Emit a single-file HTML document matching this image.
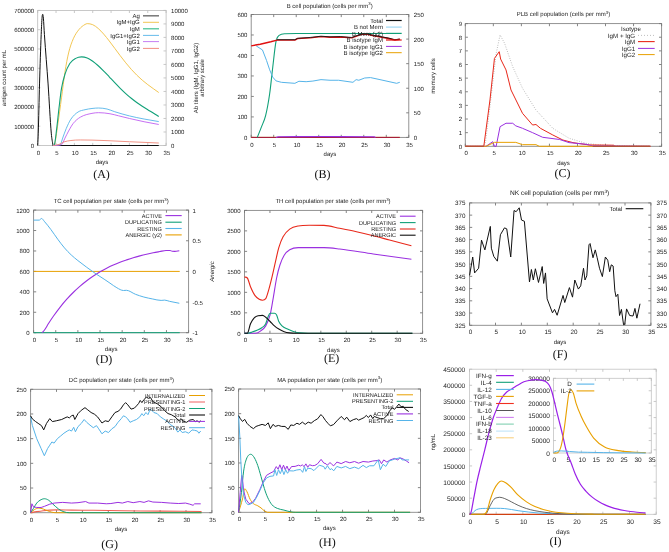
<!DOCTYPE html>
<html><head><meta charset="utf-8"><style>
html,body{margin:0;padding:0;background:#fff;}
svg{display:block;will-change:transform;}
text{text-rendering:geometricPrecision;}
</style></head><body>
<svg width="669" height="552" viewBox="0 0 669 552">
<rect width="669" height="552" fill="#fff"/>
<rect x="37.7" y="10.4" width="128.4" height="135.1" fill="none" stroke="#bbb" stroke-width="0.8"/>
<line x1="37.7" y1="145.5" x2="37.7" y2="142.9" stroke="#bbb" stroke-width="0.8"/>
<line x1="37.7" y1="10.4" x2="37.7" y2="13" stroke="#bbb" stroke-width="0.8"/>
<text x="38.5" y="154.6" font-size="6" text-anchor="middle" fill="#222" font-family="Liberation Sans">0</text>
<line x1="56.04" y1="145.5" x2="56.04" y2="142.9" stroke="#bbb" stroke-width="0.8"/>
<line x1="56.04" y1="10.4" x2="56.04" y2="13" stroke="#bbb" stroke-width="0.8"/>
<text x="56.84" y="154.6" font-size="6" text-anchor="middle" fill="#222" font-family="Liberation Sans">5</text>
<line x1="74.39" y1="145.5" x2="74.39" y2="142.9" stroke="#bbb" stroke-width="0.8"/>
<line x1="74.39" y1="10.4" x2="74.39" y2="13" stroke="#bbb" stroke-width="0.8"/>
<text x="75.19" y="154.6" font-size="6" text-anchor="middle" fill="#222" font-family="Liberation Sans">10</text>
<line x1="92.73" y1="145.5" x2="92.73" y2="142.9" stroke="#bbb" stroke-width="0.8"/>
<line x1="92.73" y1="10.4" x2="92.73" y2="13" stroke="#bbb" stroke-width="0.8"/>
<text x="93.53" y="154.6" font-size="6" text-anchor="middle" fill="#222" font-family="Liberation Sans">15</text>
<line x1="111.07" y1="145.5" x2="111.07" y2="142.9" stroke="#bbb" stroke-width="0.8"/>
<line x1="111.07" y1="10.4" x2="111.07" y2="13" stroke="#bbb" stroke-width="0.8"/>
<text x="111.87" y="154.6" font-size="6" text-anchor="middle" fill="#222" font-family="Liberation Sans">20</text>
<line x1="129.41" y1="145.5" x2="129.41" y2="142.9" stroke="#bbb" stroke-width="0.8"/>
<line x1="129.41" y1="10.4" x2="129.41" y2="13" stroke="#bbb" stroke-width="0.8"/>
<text x="130.21" y="154.6" font-size="6" text-anchor="middle" fill="#222" font-family="Liberation Sans">25</text>
<line x1="147.76" y1="145.5" x2="147.76" y2="142.9" stroke="#bbb" stroke-width="0.8"/>
<line x1="147.76" y1="10.4" x2="147.76" y2="13" stroke="#bbb" stroke-width="0.8"/>
<text x="148.56" y="154.6" font-size="6" text-anchor="middle" fill="#222" font-family="Liberation Sans">30</text>
<line x1="166.1" y1="145.5" x2="166.1" y2="142.9" stroke="#bbb" stroke-width="0.8"/>
<line x1="166.1" y1="10.4" x2="166.1" y2="13" stroke="#bbb" stroke-width="0.8"/>
<text x="166.9" y="154.6" font-size="6" text-anchor="middle" fill="#222" font-family="Liberation Sans">35</text>
<line x1="37.7" y1="145.5" x2="40.3" y2="145.5" stroke="#bbb" stroke-width="0.8"/>
<text x="34.2" y="147.96" font-size="6" text-anchor="end" fill="#222" font-family="Liberation Sans">0</text>
<line x1="37.7" y1="126.2" x2="40.3" y2="126.2" stroke="#bbb" stroke-width="0.8"/>
<text x="34.2" y="128.66" font-size="6" text-anchor="end" fill="#222" font-family="Liberation Sans">100000</text>
<line x1="37.7" y1="106.9" x2="40.3" y2="106.9" stroke="#bbb" stroke-width="0.8"/>
<text x="34.2" y="109.36" font-size="6" text-anchor="end" fill="#222" font-family="Liberation Sans">200000</text>
<line x1="37.7" y1="87.6" x2="40.3" y2="87.6" stroke="#bbb" stroke-width="0.8"/>
<text x="34.2" y="90.06" font-size="6" text-anchor="end" fill="#222" font-family="Liberation Sans">300000</text>
<line x1="37.7" y1="68.3" x2="40.3" y2="68.3" stroke="#bbb" stroke-width="0.8"/>
<text x="34.2" y="70.76" font-size="6" text-anchor="end" fill="#222" font-family="Liberation Sans">400000</text>
<line x1="37.7" y1="49" x2="40.3" y2="49" stroke="#bbb" stroke-width="0.8"/>
<text x="34.2" y="51.46" font-size="6" text-anchor="end" fill="#222" font-family="Liberation Sans">500000</text>
<line x1="37.7" y1="29.7" x2="40.3" y2="29.7" stroke="#bbb" stroke-width="0.8"/>
<text x="34.2" y="32.16" font-size="6" text-anchor="end" fill="#222" font-family="Liberation Sans">600000</text>
<line x1="37.7" y1="10.4" x2="40.3" y2="10.4" stroke="#bbb" stroke-width="0.8"/>
<text x="34.2" y="12.86" font-size="6" text-anchor="end" fill="#222" font-family="Liberation Sans">700000</text>
<line x1="166.1" y1="145.5" x2="163.5" y2="145.5" stroke="#bbb" stroke-width="0.8"/>
<text x="171.1" y="147.96" font-size="6" text-anchor="start" fill="#222" font-family="Liberation Sans">0</text>
<line x1="166.1" y1="131.99" x2="163.5" y2="131.99" stroke="#bbb" stroke-width="0.8"/>
<text x="171.1" y="134.45" font-size="6" text-anchor="start" fill="#222" font-family="Liberation Sans">1000</text>
<line x1="166.1" y1="118.48" x2="163.5" y2="118.48" stroke="#bbb" stroke-width="0.8"/>
<text x="171.1" y="120.94" font-size="6" text-anchor="start" fill="#222" font-family="Liberation Sans">2000</text>
<line x1="166.1" y1="104.97" x2="163.5" y2="104.97" stroke="#bbb" stroke-width="0.8"/>
<text x="171.1" y="107.43" font-size="6" text-anchor="start" fill="#222" font-family="Liberation Sans">3000</text>
<line x1="166.1" y1="91.46" x2="163.5" y2="91.46" stroke="#bbb" stroke-width="0.8"/>
<text x="171.1" y="93.92" font-size="6" text-anchor="start" fill="#222" font-family="Liberation Sans">4000</text>
<line x1="166.1" y1="77.95" x2="163.5" y2="77.95" stroke="#bbb" stroke-width="0.8"/>
<text x="171.1" y="80.41" font-size="6" text-anchor="start" fill="#222" font-family="Liberation Sans">5000</text>
<line x1="166.1" y1="64.44" x2="163.5" y2="64.44" stroke="#bbb" stroke-width="0.8"/>
<text x="171.1" y="66.9" font-size="6" text-anchor="start" fill="#222" font-family="Liberation Sans">6000</text>
<line x1="166.1" y1="50.93" x2="163.5" y2="50.93" stroke="#bbb" stroke-width="0.8"/>
<text x="171.1" y="53.39" font-size="6" text-anchor="start" fill="#222" font-family="Liberation Sans">7000</text>
<line x1="166.1" y1="37.42" x2="163.5" y2="37.42" stroke="#bbb" stroke-width="0.8"/>
<text x="171.1" y="39.88" font-size="6" text-anchor="start" fill="#222" font-family="Liberation Sans">8000</text>
<line x1="166.1" y1="23.91" x2="163.5" y2="23.91" stroke="#bbb" stroke-width="0.8"/>
<text x="171.1" y="26.37" font-size="6" text-anchor="start" fill="#222" font-family="Liberation Sans">9000</text>
<line x1="166.1" y1="10.4" x2="163.5" y2="10.4" stroke="#bbb" stroke-width="0.8"/>
<text x="171.1" y="12.86" font-size="6" text-anchor="start" fill="#222" font-family="Liberation Sans">10000</text>
<text x="6.1" y="78" font-size="6" text-anchor="middle" fill="#222" font-family="Liberation Sans" transform="rotate(-90 6.1 78)">antigen count per mL</text>
<text x="198.1" y="78" font-size="6" text-anchor="middle" fill="#222" font-family="Liberation Sans" transform="rotate(-90 198.1 78)">Ab titers (IgM, IgG1, IgG2)</text>
<text x="204.1" y="78" font-size="6" text-anchor="middle" fill="#222" font-family="Liberation Sans" transform="rotate(-90 204.1 78)">arbitrary scale</text>
<text x="102" y="163.7" font-size="6" text-anchor="middle" fill="#222" font-family="Liberation Sans">days</text>
<text x="101.5" y="178" font-size="12" text-anchor="middle" fill="#111" font-family="Liberation Serif">(A)</text>
<path d="M37.7,145.5 C37.88,141.38 38.07,138.72 38.25,133.15 C38.68,120.14 39.11,98.54 39.53,83.93 C40.08,65.15 40.63,47.97 41.19,34.53 C41.49,27.06 41.8,20.8 42.1,17.16 C42.3,14.82 42.49,14.26 42.69,14.26 C42.92,14.26 43.15,15.62 43.39,18.12 C43.73,21.8 44.07,29.49 44.41,34.53 C45.64,52.52 46.86,66.27 48.08,83.93 C49.15,99.3 50.21,121.13 51.27,133.15 C51.85,139.64 52.42,141.38 53,145.5" fill="none" stroke="#111" stroke-width="1.0" stroke-linejoin="round" stroke-linecap="butt"/>
<path d="M52.74,145.5 L158.76,145.5" fill="none" stroke="#111" stroke-width="1.1" stroke-linejoin="round" stroke-linecap="butt"/>
<path d="M53.11,145.5 C53.54,145.35 53.96,145.49 54.39,144.69 C55.55,142.53 56.72,131.52 57.88,123.88 C59.09,115.92 60.3,106.66 61.51,97.81 C62.67,89.32 63.83,79.25 64.99,71.87 C66.19,64.26 67.39,57.92 68.59,52.96 C70.15,46.47 71.72,42.4 73.29,38.77 C75.24,34.24 77.2,31.7 79.15,29.31 C81.11,26.93 83.07,25.63 85.02,24.45 C85.76,24.01 86.49,23.63 87.23,23.63 C89.06,23.63 90.89,23.89 92.73,24.69 C94.56,25.5 96.4,26.9 98.23,28.48 C100.07,30.05 101.9,32.06 103.73,34.14 C105.57,36.22 107.4,38.6 109.24,40.96 C111.07,43.32 112.91,45.85 114.74,48.31 C116.57,50.77 118.41,53.31 120.24,55.73 C122.08,58.14 123.91,60.54 125.75,62.81 C127.58,65.07 129.41,67.27 131.25,69.32 C133.08,71.37 134.92,73.3 136.75,75.11 C138.59,76.92 140.42,78.6 142.25,80.18 C144.09,81.76 145.92,83.21 147.76,84.61 C149.59,86.02 151.43,87.29 153.26,88.61 C155.09,89.93 156.93,91.22 158.76,92.53" fill="none" stroke="#f0c040" stroke-width="0.9" stroke-linejoin="round" stroke-linecap="butt"/>
<path d="M53.11,145.5 C53.54,145.37 53.96,145.49 54.39,144.69 C55.16,143.25 55.93,134.74 56.7,128.61 C57.5,122.29 58.29,113.93 59.09,107.27 C59.89,100.5 60.7,93.15 61.51,88.35 C62.67,81.45 63.83,77.82 64.99,74.17 C66.6,69.13 68.2,65.97 69.8,63.49 C71.77,60.45 73.74,59.46 75.71,58.36 C77.68,57.26 79.64,56.87 81.61,56.87 C83.48,56.87 85.35,57.29 87.23,58.02 C89.06,58.74 90.89,59.91 92.73,61.2 C94.56,62.48 96.4,64.08 98.23,65.72 C100.07,67.37 101.9,69.22 103.73,71.07 C105.57,72.93 107.4,74.91 109.24,76.84 C111.07,78.78 112.91,80.77 114.74,82.68 C116.57,84.59 118.41,86.49 120.24,88.3 C122.08,90.11 123.91,91.88 125.75,93.54 C127.58,95.2 129.41,96.78 131.25,98.27 C133.08,99.76 134.92,101.17 136.75,102.5 C138.59,103.83 140.42,105.06 142.25,106.25 C144.09,107.45 145.92,108.55 147.76,109.67 C149.59,110.79 151.43,111.85 153.26,112.98 C155.09,114.11 156.93,115.31 158.76,116.47" fill="none" stroke="#10a078" stroke-width="1.1" stroke-linejoin="round" stroke-linecap="butt"/>
<path d="M53.11,145.5 C55.5,145.44 57.9,145.5 60.3,144.69 C61.09,144.42 61.89,140.24 62.68,138.07 C63.86,134.86 65.03,131.37 66.2,128.61 C67.77,124.93 69.34,121.52 70.9,119.16 C73.29,115.56 75.67,113.58 78.05,112 C80.38,110.45 82.7,110.28 85.02,109.7 C87.35,109.11 89.67,108.77 91.99,108.48 C94.2,108.21 96.4,108.01 98.6,108.01 C101.41,108.01 104.22,108.36 107.04,109.02 C109.6,109.63 112.17,110.91 114.74,111.72 C119.63,113.28 124.52,114.7 129.41,115.91 C134.31,117.13 139.2,118.07 144.09,119.02 C148.98,119.97 153.87,120.73 158.76,121.59" fill="none" stroke="#56b4e9" stroke-width="0.9" stroke-linejoin="round" stroke-linecap="butt"/>
<path d="M53.11,145.5 C55.91,145.42 58.71,145.5 61.51,144.69 C62.67,144.35 63.83,140.31 64.99,138.07 C66.19,135.76 67.39,133.2 68.59,131.04 C70.15,128.23 71.72,125.31 73.29,123.34 C75.66,120.36 78.03,118.55 80.4,117.13 C84.27,114.81 88.13,114.17 91.99,113.35 C94.2,112.87 96.4,112.67 98.6,112.67 C102.39,112.67 106.18,113.12 109.97,113.75 C112.78,114.22 115.6,115.09 118.41,115.78 C122.08,116.67 125.75,117.62 129.41,118.48 C134.31,119.62 139.2,120.72 144.09,121.72 C148.98,122.72 153.87,123.57 158.76,124.49" fill="none" stroke="#c060f0" stroke-width="0.9" stroke-linejoin="round" stroke-linecap="butt"/>
<path d="M53.11,145.5 C55.1,145.14 57.09,145.12 59.09,144.42 C60.64,143.87 62.19,142.55 63.75,141.99 C66.13,141.12 68.52,140.82 70.9,140.5 C74.07,140.08 77.23,139.96 80.4,139.96 C84.27,139.96 88.13,140 91.99,140.1 C97.01,140.22 102.02,140.43 107.04,140.64 C114.5,140.95 121.95,141.37 129.41,141.72 C139.2,142.17 148.98,142.57 158.76,143" fill="none" stroke="#f08878" stroke-width="0.9" stroke-linejoin="round" stroke-linecap="butt"/>
<text x="139.8" y="17.96" font-size="6" text-anchor="end" fill="#222" font-family="Liberation Sans">Ag</text>
<line x1="143" y1="15.8" x2="159" y2="15.8" stroke="#777" stroke-width="1.5"/>
<text x="139.8" y="24.46" font-size="6" text-anchor="end" fill="#222" font-family="Liberation Sans">IgM+IgG</text>
<line x1="143" y1="22.3" x2="159" y2="22.3" stroke="#f0c040" stroke-width="0.9"/>
<text x="139.8" y="30.96" font-size="6" text-anchor="end" fill="#222" font-family="Liberation Sans">IgM</text>
<line x1="143" y1="28.8" x2="159" y2="28.8" stroke="#40c090" stroke-width="1.2"/>
<text x="139.8" y="37.56" font-size="6" text-anchor="end" fill="#222" font-family="Liberation Sans">IgG1+IgG2</text>
<line x1="143" y1="35.4" x2="159" y2="35.4" stroke="#56b4e9" stroke-width="0.9"/>
<text x="139.8" y="43.76" font-size="6" text-anchor="end" fill="#222" font-family="Liberation Sans">IgG1</text>
<line x1="143" y1="41.6" x2="159" y2="41.6" stroke="#c070f0" stroke-width="0.9"/>
<text x="139.8" y="50.56" font-size="6" text-anchor="end" fill="#222" font-family="Liberation Sans">IgG2</text>
<line x1="143" y1="48.4" x2="159" y2="48.4" stroke="#f08070" stroke-width="0.9"/>
<rect x="251.2" y="14.5" width="157.6" height="122.9" fill="none" stroke="#888" stroke-width="0.9"/>
<line x1="251.2" y1="137.4" x2="251.2" y2="134.8" stroke="#777" stroke-width="0.9"/>
<line x1="251.2" y1="14.5" x2="251.2" y2="17.1" stroke="#777" stroke-width="0.9"/>
<text x="252" y="146.8" font-size="6" text-anchor="middle" fill="#222" font-family="Liberation Sans">0</text>
<line x1="273.71" y1="137.4" x2="273.71" y2="134.8" stroke="#777" stroke-width="0.9"/>
<line x1="273.71" y1="14.5" x2="273.71" y2="17.1" stroke="#777" stroke-width="0.9"/>
<text x="274.51" y="146.8" font-size="6" text-anchor="middle" fill="#222" font-family="Liberation Sans">5</text>
<line x1="296.23" y1="137.4" x2="296.23" y2="134.8" stroke="#777" stroke-width="0.9"/>
<line x1="296.23" y1="14.5" x2="296.23" y2="17.1" stroke="#777" stroke-width="0.9"/>
<text x="297.03" y="146.8" font-size="6" text-anchor="middle" fill="#222" font-family="Liberation Sans">10</text>
<line x1="318.74" y1="137.4" x2="318.74" y2="134.8" stroke="#777" stroke-width="0.9"/>
<line x1="318.74" y1="14.5" x2="318.74" y2="17.1" stroke="#777" stroke-width="0.9"/>
<text x="319.54" y="146.8" font-size="6" text-anchor="middle" fill="#222" font-family="Liberation Sans">15</text>
<line x1="341.26" y1="137.4" x2="341.26" y2="134.8" stroke="#777" stroke-width="0.9"/>
<line x1="341.26" y1="14.5" x2="341.26" y2="17.1" stroke="#777" stroke-width="0.9"/>
<text x="342.06" y="146.8" font-size="6" text-anchor="middle" fill="#222" font-family="Liberation Sans">20</text>
<line x1="363.77" y1="137.4" x2="363.77" y2="134.8" stroke="#777" stroke-width="0.9"/>
<line x1="363.77" y1="14.5" x2="363.77" y2="17.1" stroke="#777" stroke-width="0.9"/>
<text x="364.57" y="146.8" font-size="6" text-anchor="middle" fill="#222" font-family="Liberation Sans">25</text>
<line x1="386.29" y1="137.4" x2="386.29" y2="134.8" stroke="#777" stroke-width="0.9"/>
<line x1="386.29" y1="14.5" x2="386.29" y2="17.1" stroke="#777" stroke-width="0.9"/>
<text x="387.09" y="146.8" font-size="6" text-anchor="middle" fill="#222" font-family="Liberation Sans">30</text>
<line x1="408.8" y1="137.4" x2="408.8" y2="134.8" stroke="#777" stroke-width="0.9"/>
<line x1="408.8" y1="14.5" x2="408.8" y2="17.1" stroke="#777" stroke-width="0.9"/>
<text x="409.6" y="146.8" font-size="6" text-anchor="middle" fill="#222" font-family="Liberation Sans">35</text>
<line x1="251.2" y1="137.4" x2="253.8" y2="137.4" stroke="#777" stroke-width="0.9"/>
<text x="247.4" y="139.86" font-size="6" text-anchor="end" fill="#222" font-family="Liberation Sans">0</text>
<line x1="251.2" y1="116.92" x2="253.8" y2="116.92" stroke="#777" stroke-width="0.9"/>
<text x="247.4" y="119.38" font-size="6" text-anchor="end" fill="#222" font-family="Liberation Sans">100</text>
<line x1="251.2" y1="96.43" x2="253.8" y2="96.43" stroke="#777" stroke-width="0.9"/>
<text x="247.4" y="98.89" font-size="6" text-anchor="end" fill="#222" font-family="Liberation Sans">200</text>
<line x1="251.2" y1="75.95" x2="253.8" y2="75.95" stroke="#777" stroke-width="0.9"/>
<text x="247.4" y="78.41" font-size="6" text-anchor="end" fill="#222" font-family="Liberation Sans">300</text>
<line x1="251.2" y1="55.47" x2="253.8" y2="55.47" stroke="#777" stroke-width="0.9"/>
<text x="247.4" y="57.93" font-size="6" text-anchor="end" fill="#222" font-family="Liberation Sans">400</text>
<line x1="251.2" y1="34.98" x2="253.8" y2="34.98" stroke="#777" stroke-width="0.9"/>
<text x="247.4" y="37.44" font-size="6" text-anchor="end" fill="#222" font-family="Liberation Sans">500</text>
<line x1="251.2" y1="14.5" x2="253.8" y2="14.5" stroke="#777" stroke-width="0.9"/>
<text x="247.4" y="16.96" font-size="6" text-anchor="end" fill="#222" font-family="Liberation Sans">600</text>
<line x1="408.8" y1="137.4" x2="406.2" y2="137.4" stroke="#777" stroke-width="0.9"/>
<text x="413.8" y="139.86" font-size="6" text-anchor="start" fill="#222" font-family="Liberation Sans">0</text>
<line x1="408.8" y1="112.82" x2="406.2" y2="112.82" stroke="#777" stroke-width="0.9"/>
<text x="413.8" y="115.28" font-size="6" text-anchor="start" fill="#222" font-family="Liberation Sans">50</text>
<line x1="408.8" y1="88.24" x2="406.2" y2="88.24" stroke="#777" stroke-width="0.9"/>
<text x="413.8" y="90.7" font-size="6" text-anchor="start" fill="#222" font-family="Liberation Sans">100</text>
<line x1="408.8" y1="63.66" x2="406.2" y2="63.66" stroke="#777" stroke-width="0.9"/>
<text x="413.8" y="66.12" font-size="6" text-anchor="start" fill="#222" font-family="Liberation Sans">150</text>
<line x1="408.8" y1="39.08" x2="406.2" y2="39.08" stroke="#777" stroke-width="0.9"/>
<text x="413.8" y="41.54" font-size="6" text-anchor="start" fill="#222" font-family="Liberation Sans">200</text>
<line x1="408.8" y1="14.5" x2="406.2" y2="14.5" stroke="#777" stroke-width="0.9"/>
<text x="413.8" y="16.96" font-size="6" text-anchor="start" fill="#222" font-family="Liberation Sans">250</text>
<text x="329.7" y="7.5" font-size="6" text-anchor="middle" fill="#222" font-family="Liberation Sans">B cell population (cells per mm<tspan font-size="4.32" dy="-2.2">3</tspan><tspan dy="2.2">)</tspan></text>
<text x="329.9" y="155.7" font-size="6" text-anchor="middle" fill="#222" font-family="Liberation Sans">days</text>
<text x="435" y="76" font-size="6" text-anchor="middle" fill="#222" font-family="Liberation Sans" transform="rotate(-90 435 76)">memory cells</text>
<text x="322.4" y="178.2" font-size="12" text-anchor="middle" fill="#111" font-family="Liberation Serif">(B)</text>
<path d="M251.2,137.4 L399.79,137.4" fill="none" stroke="#e8a000" stroke-width="1.0" stroke-linejoin="round" stroke-linecap="butt"/>
<path d="M251.2,137.4 L399.79,137.4" fill="none" stroke="#a01040" stroke-width="1.0" stroke-linejoin="round" stroke-linecap="butt"/>
<path d="M275.97,137.4 L278.22,136.68 L296.23,136.58 L318.74,136.48 L341.26,136.58 L374.13,136.68 L375.48,137.4" fill="none" stroke="#9a30e0" stroke-width="1.1" stroke-linejoin="round" stroke-linecap="butt"/>
<path d="M257.28,137.4 C258.7,133.79 260.13,130.32 261.56,126.58 C262.91,123.05 264.26,121.1 265.61,115.62 C266.96,110.15 268.31,103.19 269.66,93.75 C270.71,86.4 271.76,75.38 272.81,66.71 C273.86,58.03 274.92,46.9 275.97,41.69 C277.02,36.47 278.07,36.2 279.12,35.39 C281.22,33.78 283.32,33.91 285.42,33.77 C289.02,33.52 292.63,33.52 296.23,33.52 C330.75,33.52 365.27,33.52 399.79,33.52" fill="none" stroke="#10a078" stroke-width="1.1" stroke-linejoin="round" stroke-linecap="butt"/>
<path d="M256.15,45.84 L262.46,49.94 L266.51,60.38 L269.66,69.8 L272.81,77.18 L275.97,80.87 L281.37,82.3 L294.88,83.32 L298.93,81.28 L306.13,81.69 L312.89,81.07 L320.99,79.64 L330,80.25 L338.56,80.25 L352.96,82.3 L356.12,79.64 L358.82,80.25 L364.67,78 L370.53,77.59 L379.98,79.64 L396.64,83.32 L399.79,82.3" fill="none" stroke="#56b4e9" stroke-width="1.0" stroke-linejoin="round" stroke-linecap="butt"/>
<path d="M251.2,45.84 L260.21,44.2 L270.79,41.74 L277.09,40.1 L294.88,40.1 L297.58,38.67 L310.19,37.85 L320.99,36.62 L330,37.24 L340.36,37.03 L351.61,37.85 L355.22,36.62 L361.52,34.37 L367.37,34.37 L373.68,35.8 L388.54,38.47 L394.84,40.1 L399.79,39.28" fill="none" stroke="#e01010" stroke-width="1.4" stroke-linejoin="round" stroke-linecap="butt"/>
<path d="M277.09,39.69 L294.88,39.69 L297.58,38.26 L310.19,37.44 L320.99,36.21 L330,36.83 L340.36,36.62 L351.61,37.44 L355.22,36.21 L361.52,33.96 L367.37,33.96 L373.68,35.39 L388.54,38.06 L394.84,39.69 L399.79,39.08" fill="none" stroke="#111" stroke-width="0.9" stroke-linejoin="round" stroke-linecap="butt"/>
<text x="382.9" y="22.66" font-size="6" text-anchor="end" fill="#222" font-family="Liberation Sans">Total</text>
<line x1="386" y1="20.5" x2="401.7" y2="20.5" stroke="#111" stroke-width="1.2"/>
<text x="382.9" y="29.26" font-size="6" text-anchor="end" fill="#222" font-family="Liberation Sans">B not Mem</text>
<line x1="386" y1="27.1" x2="401.7" y2="27.1" stroke="#a0d8f4" stroke-width="1.2"/>
<text x="382.9" y="35.56" font-size="6" text-anchor="end" fill="#222" font-family="Liberation Sans">B Mem (y2)</text>
<line x1="386" y1="33.4" x2="401.7" y2="33.4" stroke="#10a078" stroke-width="1.2"/>
<text x="382.9" y="42.16" font-size="6" text-anchor="end" fill="#222" font-family="Liberation Sans">B isotype IgM</text>
<line x1="386" y1="40" x2="401.7" y2="40" stroke="#e01010" stroke-width="1.2"/>
<text x="382.9" y="48.56" font-size="6" text-anchor="end" fill="#222" font-family="Liberation Sans">B isotype IgG1</text>
<line x1="386" y1="46.4" x2="401.7" y2="46.4" stroke="#9a30e0" stroke-width="1.0"/>
<text x="382.9" y="54.86" font-size="6" text-anchor="end" fill="#222" font-family="Liberation Sans">B isotype IgG2</text>
<line x1="386" y1="52.7" x2="401.7" y2="52.7" stroke="#e8a000" stroke-width="1.0"/>
<rect x="465.3" y="23.6" width="196.3" height="122.7" fill="none" stroke="#888" stroke-width="0.9"/>
<line x1="465.3" y1="146.3" x2="465.3" y2="143.7" stroke="#777" stroke-width="0.9"/>
<line x1="465.3" y1="23.6" x2="465.3" y2="26.2" stroke="#777" stroke-width="0.9"/>
<text x="466.1" y="154.6" font-size="6" text-anchor="middle" fill="#222" font-family="Liberation Sans">0</text>
<line x1="493.34" y1="146.3" x2="493.34" y2="143.7" stroke="#777" stroke-width="0.9"/>
<line x1="493.34" y1="23.6" x2="493.34" y2="26.2" stroke="#777" stroke-width="0.9"/>
<text x="494.14" y="154.6" font-size="6" text-anchor="middle" fill="#222" font-family="Liberation Sans">5</text>
<line x1="521.39" y1="146.3" x2="521.39" y2="143.7" stroke="#777" stroke-width="0.9"/>
<line x1="521.39" y1="23.6" x2="521.39" y2="26.2" stroke="#777" stroke-width="0.9"/>
<text x="522.19" y="154.6" font-size="6" text-anchor="middle" fill="#222" font-family="Liberation Sans">10</text>
<line x1="549.43" y1="146.3" x2="549.43" y2="143.7" stroke="#777" stroke-width="0.9"/>
<line x1="549.43" y1="23.6" x2="549.43" y2="26.2" stroke="#777" stroke-width="0.9"/>
<text x="550.23" y="154.6" font-size="6" text-anchor="middle" fill="#222" font-family="Liberation Sans">15</text>
<line x1="577.47" y1="146.3" x2="577.47" y2="143.7" stroke="#777" stroke-width="0.9"/>
<line x1="577.47" y1="23.6" x2="577.47" y2="26.2" stroke="#777" stroke-width="0.9"/>
<text x="578.27" y="154.6" font-size="6" text-anchor="middle" fill="#222" font-family="Liberation Sans">20</text>
<line x1="605.51" y1="146.3" x2="605.51" y2="143.7" stroke="#777" stroke-width="0.9"/>
<line x1="605.51" y1="23.6" x2="605.51" y2="26.2" stroke="#777" stroke-width="0.9"/>
<text x="606.31" y="154.6" font-size="6" text-anchor="middle" fill="#222" font-family="Liberation Sans">25</text>
<line x1="633.56" y1="146.3" x2="633.56" y2="143.7" stroke="#777" stroke-width="0.9"/>
<line x1="633.56" y1="23.6" x2="633.56" y2="26.2" stroke="#777" stroke-width="0.9"/>
<text x="634.36" y="154.6" font-size="6" text-anchor="middle" fill="#222" font-family="Liberation Sans">30</text>
<line x1="661.6" y1="146.3" x2="661.6" y2="143.7" stroke="#777" stroke-width="0.9"/>
<line x1="661.6" y1="23.6" x2="661.6" y2="26.2" stroke="#777" stroke-width="0.9"/>
<text x="662.4" y="154.6" font-size="6" text-anchor="middle" fill="#222" font-family="Liberation Sans">35</text>
<line x1="465.3" y1="146.3" x2="467.9" y2="146.3" stroke="#777" stroke-width="0.9"/>
<line x1="661.6" y1="146.3" x2="659" y2="146.3" stroke="#777" stroke-width="0.9"/>
<text x="462.2" y="148.76" font-size="6" text-anchor="end" fill="#222" font-family="Liberation Sans">0</text>
<line x1="465.3" y1="132.67" x2="467.9" y2="132.67" stroke="#777" stroke-width="0.9"/>
<line x1="661.6" y1="132.67" x2="659" y2="132.67" stroke="#777" stroke-width="0.9"/>
<text x="462.2" y="135.13" font-size="6" text-anchor="end" fill="#222" font-family="Liberation Sans">1</text>
<line x1="465.3" y1="119.03" x2="467.9" y2="119.03" stroke="#777" stroke-width="0.9"/>
<line x1="661.6" y1="119.03" x2="659" y2="119.03" stroke="#777" stroke-width="0.9"/>
<text x="462.2" y="121.49" font-size="6" text-anchor="end" fill="#222" font-family="Liberation Sans">2</text>
<line x1="465.3" y1="105.4" x2="467.9" y2="105.4" stroke="#777" stroke-width="0.9"/>
<line x1="661.6" y1="105.4" x2="659" y2="105.4" stroke="#777" stroke-width="0.9"/>
<text x="462.2" y="107.86" font-size="6" text-anchor="end" fill="#222" font-family="Liberation Sans">3</text>
<line x1="465.3" y1="91.77" x2="467.9" y2="91.77" stroke="#777" stroke-width="0.9"/>
<line x1="661.6" y1="91.77" x2="659" y2="91.77" stroke="#777" stroke-width="0.9"/>
<text x="462.2" y="94.23" font-size="6" text-anchor="end" fill="#222" font-family="Liberation Sans">4</text>
<line x1="465.3" y1="78.13" x2="467.9" y2="78.13" stroke="#777" stroke-width="0.9"/>
<line x1="661.6" y1="78.13" x2="659" y2="78.13" stroke="#777" stroke-width="0.9"/>
<text x="462.2" y="80.59" font-size="6" text-anchor="end" fill="#222" font-family="Liberation Sans">5</text>
<line x1="465.3" y1="64.5" x2="467.9" y2="64.5" stroke="#777" stroke-width="0.9"/>
<line x1="661.6" y1="64.5" x2="659" y2="64.5" stroke="#777" stroke-width="0.9"/>
<text x="462.2" y="66.96" font-size="6" text-anchor="end" fill="#222" font-family="Liberation Sans">6</text>
<line x1="465.3" y1="50.87" x2="467.9" y2="50.87" stroke="#777" stroke-width="0.9"/>
<line x1="661.6" y1="50.87" x2="659" y2="50.87" stroke="#777" stroke-width="0.9"/>
<text x="462.2" y="53.33" font-size="6" text-anchor="end" fill="#222" font-family="Liberation Sans">7</text>
<line x1="465.3" y1="37.23" x2="467.9" y2="37.23" stroke="#777" stroke-width="0.9"/>
<line x1="661.6" y1="37.23" x2="659" y2="37.23" stroke="#777" stroke-width="0.9"/>
<text x="462.2" y="39.69" font-size="6" text-anchor="end" fill="#222" font-family="Liberation Sans">8</text>
<line x1="465.3" y1="23.6" x2="467.9" y2="23.6" stroke="#777" stroke-width="0.9"/>
<line x1="661.6" y1="23.6" x2="659" y2="23.6" stroke="#777" stroke-width="0.9"/>
<text x="462.2" y="26.06" font-size="6" text-anchor="end" fill="#222" font-family="Liberation Sans">9</text>
<text x="563.4" y="15.9" font-size="6" text-anchor="middle" fill="#222" font-family="Liberation Sans">PLB cell population (cells per mm<tspan font-size="4.32" dy="-2.2">3</tspan><tspan dy="2.2">)</tspan></text>
<text x="563.5" y="164.9" font-size="6" text-anchor="middle" fill="#222" font-family="Liberation Sans">days</text>
<text x="562.6" y="176.5" font-size="12" text-anchor="middle" fill="#111" font-family="Liberation Serif">(C)</text>
<path d="M465.3,146.3 L483.25,146.3 L485.49,142.21 L489.42,110.85 L492.78,82.22 L496.15,53.59 L500.07,34.92 L504.56,43.23 L512.69,66.68 L522.51,88.22 L535.97,110.04 L552.79,128.3 L569.06,138.26 L585.88,143.3 L599.91,144.94 L613.93,145.62 L633.56,146.16 L650.38,146.3" fill="none" stroke="#999" stroke-width="0.8" stroke-linejoin="round" stroke-linecap="butt" stroke-dasharray="0.8,1.6"/>
<path d="M465.3,146.3 L483.81,146.3 L489.98,99.95 L494.46,58.36 L499.23,51.68 L500.63,59.05 L506.02,69.95 L511.01,89.99 L522.51,113.31 L532.6,125.03 L535.97,124.49 L540.45,128.3 L552.79,134.98 L562.89,140.03 L572.98,142.62 L579.15,143.57 L589.25,144.94 L613.93,145.21 L614.49,146.3 L650.38,146.3" fill="none" stroke="#e8281a" stroke-width="1.0" stroke-linejoin="round" stroke-linecap="butt"/>
<path d="M465.3,146.3 L486.05,146.3 L492.78,141.66 L494.46,146.3 L496.15,146.3 L500.07,126.67 L506.02,123.26 L512.69,123.26 L515.78,125.85 L522.51,128.3 L532.6,132.67 L542.7,137.3 L559.52,139.48 L569.06,142.62 L585.88,144.26 L592.61,145.89 L650.38,146.3" fill="none" stroke="#9a30e0" stroke-width="1.0" stroke-linejoin="round" stroke-linecap="butt"/>
<path d="M465.3,146.3 L486.05,146.3 L494.46,142.35 L515.78,142.35 L522.51,144.66 L535.97,144.66 L539.33,146.3 L650.38,146.3" fill="none" stroke="#e8a000" stroke-width="1.0" stroke-linejoin="round" stroke-linecap="butt"/>
<path d="M465.3,146.3 L483.81,146.3" fill="none" stroke="#b04838" stroke-width="1.1" stroke-linejoin="round" stroke-linecap="butt"/>
<path d="M592.61,146.3 L650.38,146.3" fill="none" stroke="#a04040" stroke-width="1.1" stroke-linejoin="round" stroke-linecap="butt"/>
<text x="631" y="31.4" font-size="6.2" text-anchor="middle" fill="#222" font-family="Liberation Sans">Isotype</text>
<text x="635.2" y="37.63" font-size="6.2" text-anchor="end" fill="#222" font-family="Liberation Sans">IgM + IgG</text>
<line x1="638" y1="35.4" x2="654.7" y2="35.4" stroke="#999" stroke-width="0.8" stroke-dasharray="0.8,2.2"/>
<text x="635.2" y="43.83" font-size="6.2" text-anchor="end" fill="#222" font-family="Liberation Sans">IgM</text>
<line x1="638" y1="41.6" x2="654.7" y2="41.6" stroke="#e8281a" stroke-width="1.1"/>
<text x="635.2" y="50.63" font-size="6.2" text-anchor="end" fill="#222" font-family="Liberation Sans">IgG1</text>
<line x1="638" y1="48.4" x2="654.7" y2="48.4" stroke="#9a30e0" stroke-width="1.0"/>
<text x="635.2" y="56.83" font-size="6.2" text-anchor="end" fill="#222" font-family="Liberation Sans">IgG2</text>
<line x1="638" y1="54.6" x2="654.7" y2="54.6" stroke="#e8a000" stroke-width="1.0"/>
<rect x="33.6" y="210.1" width="155" height="122.6" fill="none" stroke="#888" stroke-width="0.9"/>
<line x1="33.6" y1="332.7" x2="33.6" y2="330.1" stroke="#777" stroke-width="0.9"/>
<line x1="33.6" y1="210.1" x2="33.6" y2="212.7" stroke="#777" stroke-width="0.9"/>
<text x="34.4" y="341.7" font-size="6" text-anchor="middle" fill="#222" font-family="Liberation Sans">0</text>
<line x1="55.74" y1="332.7" x2="55.74" y2="330.1" stroke="#777" stroke-width="0.9"/>
<line x1="55.74" y1="210.1" x2="55.74" y2="212.7" stroke="#777" stroke-width="0.9"/>
<text x="56.54" y="341.7" font-size="6" text-anchor="middle" fill="#222" font-family="Liberation Sans">5</text>
<line x1="77.89" y1="332.7" x2="77.89" y2="330.1" stroke="#777" stroke-width="0.9"/>
<line x1="77.89" y1="210.1" x2="77.89" y2="212.7" stroke="#777" stroke-width="0.9"/>
<text x="78.69" y="341.7" font-size="6" text-anchor="middle" fill="#222" font-family="Liberation Sans">10</text>
<line x1="100.03" y1="332.7" x2="100.03" y2="330.1" stroke="#777" stroke-width="0.9"/>
<line x1="100.03" y1="210.1" x2="100.03" y2="212.7" stroke="#777" stroke-width="0.9"/>
<text x="100.83" y="341.7" font-size="6" text-anchor="middle" fill="#222" font-family="Liberation Sans">15</text>
<line x1="122.17" y1="332.7" x2="122.17" y2="330.1" stroke="#777" stroke-width="0.9"/>
<line x1="122.17" y1="210.1" x2="122.17" y2="212.7" stroke="#777" stroke-width="0.9"/>
<text x="122.97" y="341.7" font-size="6" text-anchor="middle" fill="#222" font-family="Liberation Sans">20</text>
<line x1="144.31" y1="332.7" x2="144.31" y2="330.1" stroke="#777" stroke-width="0.9"/>
<line x1="144.31" y1="210.1" x2="144.31" y2="212.7" stroke="#777" stroke-width="0.9"/>
<text x="145.11" y="341.7" font-size="6" text-anchor="middle" fill="#222" font-family="Liberation Sans">25</text>
<line x1="166.46" y1="332.7" x2="166.46" y2="330.1" stroke="#777" stroke-width="0.9"/>
<line x1="166.46" y1="210.1" x2="166.46" y2="212.7" stroke="#777" stroke-width="0.9"/>
<text x="167.26" y="341.7" font-size="6" text-anchor="middle" fill="#222" font-family="Liberation Sans">30</text>
<line x1="188.6" y1="332.7" x2="188.6" y2="330.1" stroke="#777" stroke-width="0.9"/>
<line x1="188.6" y1="210.1" x2="188.6" y2="212.7" stroke="#777" stroke-width="0.9"/>
<text x="189.4" y="341.7" font-size="6" text-anchor="middle" fill="#222" font-family="Liberation Sans">35</text>
<line x1="33.6" y1="332.7" x2="36.2" y2="332.7" stroke="#777" stroke-width="0.9"/>
<text x="29.6" y="335.16" font-size="6" text-anchor="end" fill="#222" font-family="Liberation Sans">0</text>
<line x1="33.6" y1="312.27" x2="36.2" y2="312.27" stroke="#777" stroke-width="0.9"/>
<text x="29.6" y="314.73" font-size="6" text-anchor="end" fill="#222" font-family="Liberation Sans">200</text>
<line x1="33.6" y1="291.83" x2="36.2" y2="291.83" stroke="#777" stroke-width="0.9"/>
<text x="29.6" y="294.29" font-size="6" text-anchor="end" fill="#222" font-family="Liberation Sans">400</text>
<line x1="33.6" y1="271.4" x2="36.2" y2="271.4" stroke="#777" stroke-width="0.9"/>
<text x="29.6" y="273.86" font-size="6" text-anchor="end" fill="#222" font-family="Liberation Sans">600</text>
<line x1="33.6" y1="250.97" x2="36.2" y2="250.97" stroke="#777" stroke-width="0.9"/>
<text x="29.6" y="253.43" font-size="6" text-anchor="end" fill="#222" font-family="Liberation Sans">800</text>
<line x1="33.6" y1="230.53" x2="36.2" y2="230.53" stroke="#777" stroke-width="0.9"/>
<text x="29.6" y="232.99" font-size="6" text-anchor="end" fill="#222" font-family="Liberation Sans">1000</text>
<line x1="33.6" y1="210.1" x2="36.2" y2="210.1" stroke="#777" stroke-width="0.9"/>
<text x="29.6" y="212.56" font-size="6" text-anchor="end" fill="#222" font-family="Liberation Sans">1200</text>
<line x1="188.6" y1="332.7" x2="186" y2="332.7" stroke="#777" stroke-width="0.9"/>
<text x="192.6" y="335.16" font-size="6" text-anchor="start" fill="#222" font-family="Liberation Sans">-1</text>
<line x1="188.6" y1="302.05" x2="186" y2="302.05" stroke="#777" stroke-width="0.9"/>
<text x="192.6" y="304.51" font-size="6" text-anchor="start" fill="#222" font-family="Liberation Sans">-0.5</text>
<line x1="188.6" y1="271.4" x2="186" y2="271.4" stroke="#777" stroke-width="0.9"/>
<text x="192.6" y="273.86" font-size="6" text-anchor="start" fill="#222" font-family="Liberation Sans">0</text>
<line x1="188.6" y1="240.75" x2="186" y2="240.75" stroke="#777" stroke-width="0.9"/>
<text x="192.6" y="243.21" font-size="6" text-anchor="start" fill="#222" font-family="Liberation Sans">0.5</text>
<line x1="188.6" y1="210.1" x2="186" y2="210.1" stroke="#777" stroke-width="0.9"/>
<text x="192.6" y="212.56" font-size="6" text-anchor="start" fill="#222" font-family="Liberation Sans">1</text>
<text x="111.2" y="202.7" font-size="6" text-anchor="middle" fill="#222" font-family="Liberation Sans">TC cell population per state (cells per mm<tspan font-size="4.32" dy="-2.2">3</tspan><tspan dy="2.2">)</tspan></text>
<text x="111.2" y="350.6" font-size="6" text-anchor="middle" fill="#222" font-family="Liberation Sans">days</text>
<text x="214.4" y="271.5" font-size="6" text-anchor="middle" fill="#222" font-family="Liberation Sans" transform="rotate(-90 214.4 271.5)" font-style="italic">Anergic</text>
<text x="104" y="363" font-size="12" text-anchor="middle" fill="#111" font-family="Liberation Serif">(D)</text>
<path d="M33.6,332.7 L179.74,332.7" fill="none" stroke="#10a078" stroke-width="1.0" stroke-linejoin="round" stroke-linecap="butt"/>
<path d="M33.6,271.4 L179.74,271.4" fill="none" stroke="#e8a000" stroke-width="1.0" stroke-linejoin="round" stroke-linecap="butt"/>
<path d="M42.01,332.7 C42.9,331.71 43.79,330.95 44.67,329.74 C46,327.92 47.33,325.36 48.66,323.3 C50.28,320.78 51.9,318.35 53.53,316.05 C55.74,312.9 57.96,309.87 60.17,307.06 C62.39,304.25 64.6,301.66 66.81,299.19 C69.03,296.72 71.24,294.42 73.46,292.24 C75.67,290.06 77.89,288.04 80.1,286.11 C82.31,284.19 84.53,282.38 86.74,280.7 C88.96,279.01 91.17,277.48 93.39,276 C95.6,274.52 97.81,273.1 100.03,271.81 C102.24,270.51 104.46,269.36 106.67,268.23 C108.89,267.11 111.1,266.07 113.31,265.07 C115.53,264.06 117.74,263.07 119.96,262.2 C122.17,261.34 124.39,260.6 126.6,259.86 C128.81,259.11 131.03,258.37 133.24,257.71 C135.46,257.05 137.67,256.45 139.89,255.87 C142.1,255.29 144.31,254.75 146.53,254.24 C148.74,253.73 150.96,253.25 153.17,252.81 C155.39,252.36 157.6,251.98 159.81,251.58 C161.88,251.2 163.95,250.46 166.01,250.46 C167.34,250.46 168.67,250.46 170,250.46 C170.74,250.46 171.48,251.19 172.21,251.27 C173.1,251.38 173.99,251.38 174.87,251.38 C176.35,251.38 177.82,250.97 179.3,250.76" fill="none" stroke="#9a30e0" stroke-width="1.1" stroke-linejoin="round" stroke-linecap="butt"/>
<path d="M33.6,220.11 C35.47,220.11 37.35,220.11 39.22,220.11 C40.01,220.11 40.79,218.48 41.57,218.48 C42.46,218.48 43.34,220.22 44.23,221.24 C46.44,223.76 48.66,226.57 50.87,229.51 C53.16,232.55 55.45,236.12 57.74,239.22 C59.98,242.25 62.22,245.29 64.47,247.9 C66.73,250.53 68.98,252.82 71.24,254.95 C73.46,257.04 75.67,258.79 77.89,260.57 C80.84,262.94 83.79,265.14 86.74,267.31 C89.84,269.6 92.94,271.85 96.04,273.95 C99,275.96 101.95,277.72 104.9,279.68 C106.6,280.8 108.3,282 109.99,283.15 C112.28,284.7 114.57,286.51 116.86,287.75 C119.07,288.95 121.29,290.51 123.5,290.51 C124.46,290.51 125.42,290.3 126.38,290.3 C129.4,290.3 132.43,293.13 135.46,294.29 C138.26,295.36 141.07,296.28 143.87,297.04 C146.82,297.85 149.78,298.41 152.73,298.99 C155.53,299.53 158.34,300.42 161.14,300.42 C162.32,300.42 163.5,300.11 164.69,300.11 C166.31,300.11 167.93,300.97 169.56,301.33 C172.8,302.07 176.05,302.63 179.3,303.28" fill="none" stroke="#56b4e9" stroke-width="1.0" stroke-linejoin="round" stroke-linecap="butt"/>
<text x="161.9" y="217.6" font-size="5.55" text-anchor="end" fill="#222" font-family="Liberation Sans">ACTIVE</text>
<line x1="165.4" y1="215.6" x2="181.7" y2="215.6" stroke="#9a30e0" stroke-width="1.1"/>
<text x="161.9" y="224.2" font-size="5.55" text-anchor="end" fill="#222" font-family="Liberation Sans">DUPLICATING</text>
<line x1="165.4" y1="222.2" x2="181.7" y2="222.2" stroke="#10a078" stroke-width="1.1"/>
<text x="161.9" y="230.5" font-size="5.55" text-anchor="end" fill="#222" font-family="Liberation Sans">RESTING</text>
<line x1="165.4" y1="228.5" x2="181.7" y2="228.5" stroke="#56b4e9" stroke-width="1.1"/>
<text x="161.9" y="236.9" font-size="5.55" text-anchor="end" fill="#222" font-family="Liberation Sans">ANERGIC (y2)</text>
<line x1="165.4" y1="234.9" x2="181.7" y2="234.9" stroke="#e8a000" stroke-width="1.1"/>
<rect x="244.5" y="210.4" width="178.1" height="122.9" fill="none" stroke="#888" stroke-width="0.9"/>
<line x1="244.5" y1="333.3" x2="244.5" y2="330.7" stroke="#777" stroke-width="0.9"/>
<line x1="244.5" y1="210.4" x2="244.5" y2="213" stroke="#777" stroke-width="0.9"/>
<text x="245.3" y="341.8" font-size="6" text-anchor="middle" fill="#222" font-family="Liberation Sans">0</text>
<line x1="269.94" y1="333.3" x2="269.94" y2="330.7" stroke="#777" stroke-width="0.9"/>
<line x1="269.94" y1="210.4" x2="269.94" y2="213" stroke="#777" stroke-width="0.9"/>
<text x="270.74" y="341.8" font-size="6" text-anchor="middle" fill="#222" font-family="Liberation Sans">5</text>
<line x1="295.39" y1="333.3" x2="295.39" y2="330.7" stroke="#777" stroke-width="0.9"/>
<line x1="295.39" y1="210.4" x2="295.39" y2="213" stroke="#777" stroke-width="0.9"/>
<text x="296.19" y="341.8" font-size="6" text-anchor="middle" fill="#222" font-family="Liberation Sans">10</text>
<line x1="320.83" y1="333.3" x2="320.83" y2="330.7" stroke="#777" stroke-width="0.9"/>
<line x1="320.83" y1="210.4" x2="320.83" y2="213" stroke="#777" stroke-width="0.9"/>
<text x="321.63" y="341.8" font-size="6" text-anchor="middle" fill="#222" font-family="Liberation Sans">15</text>
<line x1="346.27" y1="333.3" x2="346.27" y2="330.7" stroke="#777" stroke-width="0.9"/>
<line x1="346.27" y1="210.4" x2="346.27" y2="213" stroke="#777" stroke-width="0.9"/>
<text x="347.07" y="341.8" font-size="6" text-anchor="middle" fill="#222" font-family="Liberation Sans">20</text>
<line x1="371.71" y1="333.3" x2="371.71" y2="330.7" stroke="#777" stroke-width="0.9"/>
<line x1="371.71" y1="210.4" x2="371.71" y2="213" stroke="#777" stroke-width="0.9"/>
<text x="372.51" y="341.8" font-size="6" text-anchor="middle" fill="#222" font-family="Liberation Sans">25</text>
<line x1="397.16" y1="333.3" x2="397.16" y2="330.7" stroke="#777" stroke-width="0.9"/>
<line x1="397.16" y1="210.4" x2="397.16" y2="213" stroke="#777" stroke-width="0.9"/>
<text x="397.96" y="341.8" font-size="6" text-anchor="middle" fill="#222" font-family="Liberation Sans">30</text>
<line x1="422.6" y1="333.3" x2="422.6" y2="330.7" stroke="#777" stroke-width="0.9"/>
<line x1="422.6" y1="210.4" x2="422.6" y2="213" stroke="#777" stroke-width="0.9"/>
<text x="423.4" y="341.8" font-size="6" text-anchor="middle" fill="#222" font-family="Liberation Sans">35</text>
<line x1="244.5" y1="333.3" x2="247.1" y2="333.3" stroke="#777" stroke-width="0.9"/>
<line x1="422.6" y1="333.3" x2="420" y2="333.3" stroke="#777" stroke-width="0.9"/>
<text x="240.5" y="335.76" font-size="6" text-anchor="end" fill="#222" font-family="Liberation Sans">0</text>
<line x1="244.5" y1="312.82" x2="247.1" y2="312.82" stroke="#777" stroke-width="0.9"/>
<line x1="422.6" y1="312.82" x2="420" y2="312.82" stroke="#777" stroke-width="0.9"/>
<text x="240.5" y="315.28" font-size="6" text-anchor="end" fill="#222" font-family="Liberation Sans">500</text>
<line x1="244.5" y1="292.33" x2="247.1" y2="292.33" stroke="#777" stroke-width="0.9"/>
<line x1="422.6" y1="292.33" x2="420" y2="292.33" stroke="#777" stroke-width="0.9"/>
<text x="240.5" y="294.79" font-size="6" text-anchor="end" fill="#222" font-family="Liberation Sans">1000</text>
<line x1="244.5" y1="271.85" x2="247.1" y2="271.85" stroke="#777" stroke-width="0.9"/>
<line x1="422.6" y1="271.85" x2="420" y2="271.85" stroke="#777" stroke-width="0.9"/>
<text x="240.5" y="274.31" font-size="6" text-anchor="end" fill="#222" font-family="Liberation Sans">1500</text>
<line x1="244.5" y1="251.37" x2="247.1" y2="251.37" stroke="#777" stroke-width="0.9"/>
<line x1="422.6" y1="251.37" x2="420" y2="251.37" stroke="#777" stroke-width="0.9"/>
<text x="240.5" y="253.83" font-size="6" text-anchor="end" fill="#222" font-family="Liberation Sans">2000</text>
<line x1="244.5" y1="230.88" x2="247.1" y2="230.88" stroke="#777" stroke-width="0.9"/>
<line x1="422.6" y1="230.88" x2="420" y2="230.88" stroke="#777" stroke-width="0.9"/>
<text x="240.5" y="233.34" font-size="6" text-anchor="end" fill="#222" font-family="Liberation Sans">2500</text>
<line x1="244.5" y1="210.4" x2="247.1" y2="210.4" stroke="#777" stroke-width="0.9"/>
<line x1="422.6" y1="210.4" x2="420" y2="210.4" stroke="#777" stroke-width="0.9"/>
<text x="240.5" y="212.86" font-size="6" text-anchor="end" fill="#222" font-family="Liberation Sans">3000</text>
<text x="333" y="203" font-size="6" text-anchor="middle" fill="#222" font-family="Liberation Sans">TH cell population per state (cells per mm<tspan font-size="4.32" dy="-2.2">3</tspan><tspan dy="2.2">)</tspan></text>
<text x="333.4" y="351.7" font-size="6" text-anchor="middle" fill="#222" font-family="Liberation Sans">days</text>
<text x="331.7" y="361.7" font-size="12" text-anchor="middle" fill="#111" font-family="Liberation Serif">(E)</text>
<path d="M244.5,277.01 C245.43,277.23 246.37,277.04 247.3,278 C248.37,279.09 249.44,284.21 250.5,286.72 C251.96,290.15 253.42,293.3 254.88,295.41 C256.32,297.49 257.76,298.45 259.21,299.3 C260.31,299.94 261.41,300.2 262.51,300.2 C263.58,300.2 264.65,300.2 265.72,298.68 C266.8,297.14 267.89,292.66 268.98,288.89 C270.08,285.07 271.18,280.51 272.28,275.91 C273.35,271.44 274.42,266.34 275.49,261.69 C276.59,256.9 277.69,251.35 278.8,247.6 C280.22,242.75 281.65,239.33 283.07,236.7 C285.28,232.63 287.48,230.79 289.69,229.12 C292.55,226.95 295.42,226.48 298.29,225.93 C301.92,225.23 305.55,225.23 309.18,225.23 C314.11,225.23 319.05,225.23 323.98,225.39 C329.21,225.57 334.43,227.29 339.66,228.3 C345.25,229.39 350.85,230.47 356.45,231.7 C362.05,232.94 367.64,234.31 373.24,235.72 C378.67,237.08 384.1,238.6 389.52,240.02 C396.82,241.93 404.11,243.82 411.41,245.71" fill="none" stroke="#e8281a" stroke-width="1.1" stroke-linejoin="round" stroke-linecap="butt"/>
<path d="M244.5,333.3 C248.23,333.3 251.96,333.3 255.69,333.3 C257.39,333.3 259.09,332.1 260.78,330.84 C262.43,329.62 264.07,328.76 265.72,325.89 C267.18,323.34 268.64,320.76 270.1,314.99 C271.16,310.76 272.23,303.68 273.3,297.62 C274.4,291.36 275.51,283.43 276.61,278 C277.71,272.56 278.81,268.44 279.92,265.01 C281.34,260.58 282.77,257.55 284.19,255.22 C286.02,252.22 287.85,250.95 289.69,249.81 C292.55,248.03 295.42,247.6 298.29,247.6 C306.85,247.6 315.42,247.6 323.98,247.6 C329.21,247.6 334.43,248.37 339.66,248.99 C350.85,250.32 362.05,252.37 373.24,253.99 C385.96,255.82 398.68,257.54 411.41,259.31" fill="none" stroke="#9a30e0" stroke-width="1.1" stroke-linejoin="round" stroke-linecap="butt"/>
<path d="M244.5,333.3 C245.38,333.3 246.26,333.3 247.15,333.3 C248.81,333.3 250.47,332.6 252.13,332.07 C253.76,331.56 255.39,330.9 257.02,330.19 C258.49,329.54 259.97,329.12 261.44,328.02 C262.87,326.95 264.29,326.55 265.72,323.71 C266.45,322.26 267.18,318.93 267.91,317.2 C268.64,315.47 269.37,313.31 270.1,313.31 C271.54,313.31 272.98,313.31 274.42,313.31 C275.15,313.31 275.88,313.62 276.61,314.99 C277.34,316.35 278.07,319.92 278.8,321.5 C279.87,323.82 280.93,324.84 282,325.89 C283.83,327.67 285.67,328.18 287.5,329.08 C289.67,330.15 291.84,331.07 294.01,331.7 C296.17,332.33 298.32,332.63 300.47,332.89 C303.02,333.19 305.56,333.3 308.11,333.3 C342.88,333.3 377.65,333.3 412.42,333.3" fill="none" stroke="#10a078" stroke-width="1.1" stroke-linejoin="round" stroke-linecap="butt"/>
<path d="M244.5,333.3 C245.43,333.3 246.37,333.3 247.3,333.3 C248.37,333.3 249.44,326.19 250.5,323.71 C251.61,321.16 252.71,319.55 253.81,318.31 C255.24,316.7 256.66,315.96 258.09,315.68 C259.56,315.4 261.04,315.4 262.51,315.4 C263.58,315.4 264.65,316.37 265.72,317.2 C267.18,318.33 268.64,320.05 270.1,321.5 C271.54,322.94 272.98,324.63 274.42,325.89 C275.88,327.16 277.34,328.19 278.8,329.08 C280.59,330.17 282.39,331.07 284.19,331.7 C286.02,332.35 287.85,332.63 289.69,332.89 C291.59,333.16 293.49,333.3 295.39,333.3 C334.4,333.3 373.41,333.3 412.42,333.3" fill="none" stroke="#111" stroke-width="1.1" stroke-linejoin="round" stroke-linecap="butt"/>
<text x="396" y="218.2" font-size="5.55" text-anchor="end" fill="#222" font-family="Liberation Sans">ACTIVE</text>
<line x1="399.9" y1="216.2" x2="415.6" y2="216.2" stroke="#9a30e0" stroke-width="1.1"/>
<text x="396" y="224.6" font-size="5.55" text-anchor="end" fill="#222" font-family="Liberation Sans">DUPLICATING</text>
<line x1="399.9" y1="222.6" x2="415.6" y2="222.6" stroke="#10a078" stroke-width="1.1"/>
<text x="396" y="231" font-size="5.55" text-anchor="end" fill="#222" font-family="Liberation Sans">RESTING</text>
<line x1="399.9" y1="229" x2="415.6" y2="229" stroke="#e8281a" stroke-width="1.1"/>
<text x="396" y="237.2" font-size="5.55" text-anchor="end" fill="#222" font-family="Liberation Sans">ANERGIC</text>
<line x1="399.9" y1="235.2" x2="415.6" y2="235.2" stroke="#111" stroke-width="1.1"/>
<rect x="469.6" y="202.9" width="181.3" height="122.4" fill="none" stroke="#888" stroke-width="0.9"/>
<line x1="469.6" y1="325.3" x2="469.6" y2="322.7" stroke="#777" stroke-width="0.9"/>
<line x1="469.6" y1="202.9" x2="469.6" y2="205.5" stroke="#777" stroke-width="0.9"/>
<text x="470.4" y="334.4" font-size="6.3" text-anchor="middle" fill="#222" font-family="Liberation Sans">0</text>
<line x1="495.5" y1="325.3" x2="495.5" y2="322.7" stroke="#777" stroke-width="0.9"/>
<line x1="495.5" y1="202.9" x2="495.5" y2="205.5" stroke="#777" stroke-width="0.9"/>
<text x="496.3" y="334.4" font-size="6.3" text-anchor="middle" fill="#222" font-family="Liberation Sans">5</text>
<line x1="521.4" y1="325.3" x2="521.4" y2="322.7" stroke="#777" stroke-width="0.9"/>
<line x1="521.4" y1="202.9" x2="521.4" y2="205.5" stroke="#777" stroke-width="0.9"/>
<text x="522.2" y="334.4" font-size="6.3" text-anchor="middle" fill="#222" font-family="Liberation Sans">10</text>
<line x1="547.3" y1="325.3" x2="547.3" y2="322.7" stroke="#777" stroke-width="0.9"/>
<line x1="547.3" y1="202.9" x2="547.3" y2="205.5" stroke="#777" stroke-width="0.9"/>
<text x="548.1" y="334.4" font-size="6.3" text-anchor="middle" fill="#222" font-family="Liberation Sans">15</text>
<line x1="573.2" y1="325.3" x2="573.2" y2="322.7" stroke="#777" stroke-width="0.9"/>
<line x1="573.2" y1="202.9" x2="573.2" y2="205.5" stroke="#777" stroke-width="0.9"/>
<text x="574" y="334.4" font-size="6.3" text-anchor="middle" fill="#222" font-family="Liberation Sans">20</text>
<line x1="599.1" y1="325.3" x2="599.1" y2="322.7" stroke="#777" stroke-width="0.9"/>
<line x1="599.1" y1="202.9" x2="599.1" y2="205.5" stroke="#777" stroke-width="0.9"/>
<text x="599.9" y="334.4" font-size="6.3" text-anchor="middle" fill="#222" font-family="Liberation Sans">25</text>
<line x1="625" y1="325.3" x2="625" y2="322.7" stroke="#777" stroke-width="0.9"/>
<line x1="625" y1="202.9" x2="625" y2="205.5" stroke="#777" stroke-width="0.9"/>
<text x="625.8" y="334.4" font-size="6.3" text-anchor="middle" fill="#222" font-family="Liberation Sans">30</text>
<line x1="650.9" y1="325.3" x2="650.9" y2="322.7" stroke="#777" stroke-width="0.9"/>
<line x1="650.9" y1="202.9" x2="650.9" y2="205.5" stroke="#777" stroke-width="0.9"/>
<text x="651.7" y="334.4" font-size="6.3" text-anchor="middle" fill="#222" font-family="Liberation Sans">35</text>
<line x1="469.6" y1="325.3" x2="472.2" y2="325.3" stroke="#777" stroke-width="0.9"/>
<text x="465.6" y="327.87" font-size="6.3" text-anchor="end" fill="#222" font-family="Liberation Sans">325</text>
<line x1="469.6" y1="313.06" x2="472.2" y2="313.06" stroke="#777" stroke-width="0.9"/>
<text x="465.6" y="315.63" font-size="6.3" text-anchor="end" fill="#222" font-family="Liberation Sans">330</text>
<line x1="469.6" y1="300.82" x2="472.2" y2="300.82" stroke="#777" stroke-width="0.9"/>
<text x="465.6" y="303.39" font-size="6.3" text-anchor="end" fill="#222" font-family="Liberation Sans">335</text>
<line x1="469.6" y1="288.58" x2="472.2" y2="288.58" stroke="#777" stroke-width="0.9"/>
<text x="465.6" y="291.15" font-size="6.3" text-anchor="end" fill="#222" font-family="Liberation Sans">340</text>
<line x1="469.6" y1="276.34" x2="472.2" y2="276.34" stroke="#777" stroke-width="0.9"/>
<text x="465.6" y="278.91" font-size="6.3" text-anchor="end" fill="#222" font-family="Liberation Sans">345</text>
<line x1="469.6" y1="264.1" x2="472.2" y2="264.1" stroke="#777" stroke-width="0.9"/>
<text x="465.6" y="266.67" font-size="6.3" text-anchor="end" fill="#222" font-family="Liberation Sans">350</text>
<line x1="469.6" y1="251.86" x2="472.2" y2="251.86" stroke="#777" stroke-width="0.9"/>
<text x="465.6" y="254.43" font-size="6.3" text-anchor="end" fill="#222" font-family="Liberation Sans">355</text>
<line x1="469.6" y1="239.62" x2="472.2" y2="239.62" stroke="#777" stroke-width="0.9"/>
<text x="465.6" y="242.19" font-size="6.3" text-anchor="end" fill="#222" font-family="Liberation Sans">360</text>
<line x1="469.6" y1="227.38" x2="472.2" y2="227.38" stroke="#777" stroke-width="0.9"/>
<text x="465.6" y="229.95" font-size="6.3" text-anchor="end" fill="#222" font-family="Liberation Sans">365</text>
<line x1="469.6" y1="215.14" x2="472.2" y2="215.14" stroke="#777" stroke-width="0.9"/>
<text x="465.6" y="217.71" font-size="6.3" text-anchor="end" fill="#222" font-family="Liberation Sans">370</text>
<line x1="469.6" y1="202.9" x2="472.2" y2="202.9" stroke="#777" stroke-width="0.9"/>
<text x="465.6" y="205.47" font-size="6.3" text-anchor="end" fill="#222" font-family="Liberation Sans">375</text>
<line x1="650.9" y1="325.3" x2="648.3" y2="325.3" stroke="#777" stroke-width="0.9"/>
<text x="656.5" y="327.87" font-size="6.3" text-anchor="start" fill="#222" font-family="Liberation Sans">325</text>
<line x1="650.9" y1="313.06" x2="648.3" y2="313.06" stroke="#777" stroke-width="0.9"/>
<text x="656.5" y="315.63" font-size="6.3" text-anchor="start" fill="#222" font-family="Liberation Sans">330</text>
<line x1="650.9" y1="300.82" x2="648.3" y2="300.82" stroke="#777" stroke-width="0.9"/>
<text x="656.5" y="303.39" font-size="6.3" text-anchor="start" fill="#222" font-family="Liberation Sans">335</text>
<line x1="650.9" y1="288.58" x2="648.3" y2="288.58" stroke="#777" stroke-width="0.9"/>
<text x="656.5" y="291.15" font-size="6.3" text-anchor="start" fill="#222" font-family="Liberation Sans">340</text>
<line x1="650.9" y1="276.34" x2="648.3" y2="276.34" stroke="#777" stroke-width="0.9"/>
<text x="656.5" y="278.91" font-size="6.3" text-anchor="start" fill="#222" font-family="Liberation Sans">345</text>
<line x1="650.9" y1="264.1" x2="648.3" y2="264.1" stroke="#777" stroke-width="0.9"/>
<text x="656.5" y="266.67" font-size="6.3" text-anchor="start" fill="#222" font-family="Liberation Sans">350</text>
<line x1="650.9" y1="251.86" x2="648.3" y2="251.86" stroke="#777" stroke-width="0.9"/>
<text x="656.5" y="254.43" font-size="6.3" text-anchor="start" fill="#222" font-family="Liberation Sans">355</text>
<line x1="650.9" y1="239.62" x2="648.3" y2="239.62" stroke="#777" stroke-width="0.9"/>
<text x="656.5" y="242.19" font-size="6.3" text-anchor="start" fill="#222" font-family="Liberation Sans">360</text>
<line x1="650.9" y1="227.38" x2="648.3" y2="227.38" stroke="#777" stroke-width="0.9"/>
<text x="656.5" y="229.95" font-size="6.3" text-anchor="start" fill="#222" font-family="Liberation Sans">365</text>
<line x1="650.9" y1="215.14" x2="648.3" y2="215.14" stroke="#777" stroke-width="0.9"/>
<text x="656.5" y="217.71" font-size="6.3" text-anchor="start" fill="#222" font-family="Liberation Sans">370</text>
<line x1="650.9" y1="202.9" x2="648.3" y2="202.9" stroke="#777" stroke-width="0.9"/>
<text x="656.5" y="205.47" font-size="6.3" text-anchor="start" fill="#222" font-family="Liberation Sans">375</text>
<text x="559.6" y="195.3" font-size="6.6" text-anchor="middle" fill="#222" font-family="Liberation Sans">NK cell population (cells per mm<tspan font-size="4.75" dy="-2.2">3</tspan><tspan dy="2.2">)</tspan></text>
<text x="560" y="343.9" font-size="6" text-anchor="middle" fill="#222" font-family="Liberation Sans">days</text>
<text x="560.2" y="358.3" font-size="12" text-anchor="middle" fill="#111" font-family="Liberation Serif">(F)</text>
<path d="M469.6,275.36 L472.71,257 L474.62,272.91 L478.61,268.26 L481.51,240.11 L484.88,249.9 L490.32,226.4 L491.36,248.19 L493.84,256.51 L497.36,261.16 L500.42,234.72 L504.46,227.87 L506.74,228.85 L510.73,257 L514.04,210.49 L516.12,211.71 L519.22,207.8 L521.5,220.04 L524.4,221.26 L529.48,281.97 L531.4,269.49 L533.31,280.01 L535.39,268.75 L538.49,282.46 L542.22,266.55 L543.67,283.44 L545.49,272.91 L547.14,298.86 L552.48,312.82 L554.55,309.39 L557.14,315.26 L563.05,295.43 L564.76,302.53 L569.42,287.6 L572.53,297.15 L574.81,280.01 L578.38,289.07 L580.71,285.89 L583.51,268.26 L585.01,280.01 L586.77,275.85 L589,244.76 L590.09,243.54 L592.99,257.74 L595.27,249.9 L597.18,257.74 L599.51,268.26 L602.36,276.58 L605.37,257 L607.75,260.18 L609.67,271.69 L611.27,264.83 L613.14,266.06 L614.85,290.78 L615.99,296.66 L617.85,294.21 L619.56,315.51 L621.43,309.39 L623.55,324.81 L624.74,324.32 L626.55,308.9 L629.66,315.51 L633.03,316 L634.95,308.41 L636.86,318.2 L640.02,303.76" fill="none" stroke="#111" stroke-width="1.0" stroke-linejoin="round" stroke-linecap="butt"/>
<text x="622.1" y="210.86" font-size="6" text-anchor="end" fill="#222" font-family="Liberation Sans">Total</text>
<line x1="625.7" y1="208.7" x2="643.3" y2="208.7" stroke="#111" stroke-width="1.1"/>
<rect x="30.6" y="389.3" width="181.3" height="123.4" fill="none" stroke="#888" stroke-width="0.9"/>
<line x1="30.6" y1="512.7" x2="30.6" y2="510.1" stroke="#777" stroke-width="0.9"/>
<line x1="30.6" y1="389.3" x2="30.6" y2="391.9" stroke="#777" stroke-width="0.9"/>
<text x="31.4" y="522" font-size="6" text-anchor="middle" fill="#222" font-family="Liberation Sans">0</text>
<line x1="56.5" y1="512.7" x2="56.5" y2="510.1" stroke="#777" stroke-width="0.9"/>
<line x1="56.5" y1="389.3" x2="56.5" y2="391.9" stroke="#777" stroke-width="0.9"/>
<text x="57.3" y="522" font-size="6" text-anchor="middle" fill="#222" font-family="Liberation Sans">5</text>
<line x1="82.4" y1="512.7" x2="82.4" y2="510.1" stroke="#777" stroke-width="0.9"/>
<line x1="82.4" y1="389.3" x2="82.4" y2="391.9" stroke="#777" stroke-width="0.9"/>
<text x="83.2" y="522" font-size="6" text-anchor="middle" fill="#222" font-family="Liberation Sans">10</text>
<line x1="108.3" y1="512.7" x2="108.3" y2="510.1" stroke="#777" stroke-width="0.9"/>
<line x1="108.3" y1="389.3" x2="108.3" y2="391.9" stroke="#777" stroke-width="0.9"/>
<text x="109.1" y="522" font-size="6" text-anchor="middle" fill="#222" font-family="Liberation Sans">15</text>
<line x1="134.2" y1="512.7" x2="134.2" y2="510.1" stroke="#777" stroke-width="0.9"/>
<line x1="134.2" y1="389.3" x2="134.2" y2="391.9" stroke="#777" stroke-width="0.9"/>
<text x="135" y="522" font-size="6" text-anchor="middle" fill="#222" font-family="Liberation Sans">20</text>
<line x1="160.1" y1="512.7" x2="160.1" y2="510.1" stroke="#777" stroke-width="0.9"/>
<line x1="160.1" y1="389.3" x2="160.1" y2="391.9" stroke="#777" stroke-width="0.9"/>
<text x="160.9" y="522" font-size="6" text-anchor="middle" fill="#222" font-family="Liberation Sans">25</text>
<line x1="186" y1="512.7" x2="186" y2="510.1" stroke="#777" stroke-width="0.9"/>
<line x1="186" y1="389.3" x2="186" y2="391.9" stroke="#777" stroke-width="0.9"/>
<text x="186.8" y="522" font-size="6" text-anchor="middle" fill="#222" font-family="Liberation Sans">30</text>
<line x1="211.9" y1="512.7" x2="211.9" y2="510.1" stroke="#777" stroke-width="0.9"/>
<line x1="211.9" y1="389.3" x2="211.9" y2="391.9" stroke="#777" stroke-width="0.9"/>
<text x="212.7" y="522" font-size="6" text-anchor="middle" fill="#222" font-family="Liberation Sans">35</text>
<line x1="30.6" y1="512.7" x2="33.2" y2="512.7" stroke="#777" stroke-width="0.9"/>
<line x1="211.9" y1="512.7" x2="209.3" y2="512.7" stroke="#777" stroke-width="0.9"/>
<text x="26.6" y="515.16" font-size="6" text-anchor="end" fill="#222" font-family="Liberation Sans">0</text>
<line x1="30.6" y1="488.02" x2="33.2" y2="488.02" stroke="#777" stroke-width="0.9"/>
<line x1="211.9" y1="488.02" x2="209.3" y2="488.02" stroke="#777" stroke-width="0.9"/>
<text x="26.6" y="490.48" font-size="6" text-anchor="end" fill="#222" font-family="Liberation Sans">50</text>
<line x1="30.6" y1="463.34" x2="33.2" y2="463.34" stroke="#777" stroke-width="0.9"/>
<line x1="211.9" y1="463.34" x2="209.3" y2="463.34" stroke="#777" stroke-width="0.9"/>
<text x="26.6" y="465.8" font-size="6" text-anchor="end" fill="#222" font-family="Liberation Sans">100</text>
<line x1="30.6" y1="438.66" x2="33.2" y2="438.66" stroke="#777" stroke-width="0.9"/>
<line x1="211.9" y1="438.66" x2="209.3" y2="438.66" stroke="#777" stroke-width="0.9"/>
<text x="26.6" y="441.12" font-size="6" text-anchor="end" fill="#222" font-family="Liberation Sans">150</text>
<line x1="30.6" y1="413.98" x2="33.2" y2="413.98" stroke="#777" stroke-width="0.9"/>
<line x1="211.9" y1="413.98" x2="209.3" y2="413.98" stroke="#777" stroke-width="0.9"/>
<text x="26.6" y="416.44" font-size="6" text-anchor="end" fill="#222" font-family="Liberation Sans">200</text>
<line x1="30.6" y1="389.3" x2="33.2" y2="389.3" stroke="#777" stroke-width="0.9"/>
<line x1="211.9" y1="389.3" x2="209.3" y2="389.3" stroke="#777" stroke-width="0.9"/>
<text x="26.6" y="391.76" font-size="6" text-anchor="end" fill="#222" font-family="Liberation Sans">250</text>
<text x="121.4" y="382.3" font-size="6" text-anchor="middle" fill="#222" font-family="Liberation Sans">DC population per state (cells per mm<tspan font-size="4.32" dy="-2.2">3</tspan><tspan dy="2.2">)</tspan></text>
<text x="121" y="530.7" font-size="6" text-anchor="middle" fill="#222" font-family="Liberation Sans">days</text>
<text x="109.6" y="547.5" font-size="12" text-anchor="middle" fill="#111" font-family="Liberation Serif">(G)</text>
<path d="M30.6,512.7 C32.64,512.35 34.67,511.98 36.71,511.66 C38.87,511.32 41.03,510.99 43.19,510.73 C45.38,510.46 47.57,510.22 49.77,510.08 C51.94,509.94 54.12,509.89 56.29,509.89 C61.37,509.89 66.45,510.03 71.52,510.08 C78.77,510.16 86.03,510.19 93.28,510.28 C102.95,510.4 112.62,510.6 122.29,510.73 C134.89,510.89 147.5,511 160.1,511.12 C173.91,511.25 187.73,511.35 201.54,511.47" fill="none" stroke="#f06050" stroke-width="1.1" stroke-linejoin="round" stroke-linecap="butt"/>
<path d="M30.6,512.7 C31.89,511.66 33.19,510.33 34.48,509.59 C35.95,508.75 37.42,508.06 38.89,508.06 C40.32,508.06 41.75,508.56 43.19,509 C44.66,509.45 46.12,510.18 47.59,510.73 C49.01,511.25 50.42,511.88 51.84,512.21 C53.39,512.56 54.95,512.7 56.5,512.7 C104.85,512.7 153.19,512.7 201.54,512.7" fill="none" stroke="#e8a000" stroke-width="1.0" stroke-linejoin="round" stroke-linecap="butt"/>
<path d="M30.6,512.7 C31.53,511.3 32.46,509.97 33.4,508.5 C34.5,506.77 35.61,504.45 36.71,503.07 C37.82,501.7 38.92,500.93 40.03,500.26 C41.46,499.4 42.89,498.73 44.33,498.73 C45.78,498.73 47.23,499.35 48.68,500.26 C50.11,501.16 51.54,502.89 52.98,504.16 C54.83,505.8 56.67,507.71 58.52,509 C60.32,510.25 62.11,511.19 63.91,511.81 C65.7,512.43 67.5,512.7 69.29,512.7 C113.38,512.7 157.46,512.7 201.54,512.7" fill="none" stroke="#10a078" stroke-width="1.0" stroke-linejoin="round" stroke-linecap="butt"/>
<path d="M30.6,512.7 L31.9,503.77 L33.4,506.78 L36.71,507.47 L41.12,507.47 L44.33,506.38 L49.77,504.16 L54.12,503.07 L62.72,502.38 L71.52,503.07 L78,502.68 L85.66,501.54 L88.93,503.07 L97.58,503.07 L106.23,503.77 L110.89,503.52 L117.99,502.38 L122.29,503.07 L127.83,501.54 L133.16,502.68 L139.9,501.54 L144.04,502.38 L148.5,500.85 L152.85,502.04 L161.65,502.38 L170.2,503.07 L178.75,503.52 L185.48,503.07 L189.78,504.16 L193.1,505.3 L194.6,503.82 L200.71,503.82" fill="none" stroke="#9a30e0" stroke-width="1.0" stroke-linejoin="round" stroke-linecap="butt"/>
<path d="M30.6,416.89 L32.41,425.63 L36.71,438.66 L41.12,448.53 L44.33,455.74 L47.59,448.53 L49.77,445.18 L51.89,441.97 L54.12,443.1 L57.38,438.66 L60.59,436.04 L63.91,433.23 L67.22,431.06 L69.29,429.92 L71.52,431.06 L73.7,427.31 L75.41,431.75 L78,426.62 L81.31,423.41 L84.11,419.51 L86.7,422.32 L90.01,425.14 L93.28,427.7 L96.49,425.63 L98.72,428.84 L101.98,433.82 L105.19,431.06 L108.51,432.54 L111.82,428.84 L115.03,426.62 L117.99,422.32 L121.3,418.62 L123.43,415.81 L125.6,416.89 L127.83,419.01 L130,422.32 L133.22,420.79 L136.48,419.51 L139.79,416.89 L141.92,413.59 L143.68,415.81 L145.91,412.5 L147.98,414.67 L150.21,409.14 L151.71,410.28 L153.88,412.5 L157.2,413.59 L160.41,416.89 L163.67,419.01 L166.99,421.19 L170.2,424.49 L173.52,426.62 L175.69,428.84 L177.82,432.14 L179.99,429.92 L182.22,432.54 L185.48,431.75 L188.69,433.23 L192.01,429.92 L194.6,430.32 L197.4,431.06 L198.9,433.23 L200.71,431.06" fill="none" stroke="#56b4e9" stroke-width="1.0" stroke-linejoin="round" stroke-linecap="butt"/>
<path d="M30.6,415.81 L32.41,419.01 L35.62,421.58 L38.89,423.85 L41.48,425.63 L43.71,429.92 L46.5,423.41 L49.77,418.62 L52.36,421.58 L56.29,420.79 L61.68,419.51 L65,417.88 L67.22,416.89 L69.35,417.88 L71.52,415.81 L73.28,415.07 L74.79,419.51 L78,413.59 L81.31,410.28 L84.99,407.66 L87.79,409.88 L91.1,412.5 L94.42,414.18 L97.58,416.89 L101.98,423.01 L105.19,420.79 L108.51,421.58 L111.82,416.89 L115.03,412.5 L117.99,411.36 L120.58,409.14 L123.43,404.85 L125.6,402.63 L127.83,404.85 L131.09,409.14 L134.3,408.16 L136.48,405.93 L138.71,403.37 L140.21,400.46 L141.92,402.63 L144.09,399.42 L146.32,397.25 L148.5,398.33 L150.62,397.64 L152.8,401.54 L157.2,403.76 L161.5,407.07 L164.81,410.77 L168.03,413.59 L171.29,414.67 L175.02,416.89 L178.9,420.79 L181.08,418.62 L183.31,421.19 L186.52,422.32 L189.78,420.1 L193.1,419.51 L195.22,421.58 L197.4,420.79 L198.9,422.32 L200.71,420.79" fill="none" stroke="#111" stroke-width="1.0" stroke-linejoin="round" stroke-linecap="butt"/>
<text x="185.4" y="397.52" font-size="5.6" text-anchor="end" fill="#222" font-family="Liberation Sans">INTERNALIZED</text>
<line x1="189.1" y1="395.5" x2="205" y2="395.5" stroke="#e8a000" stroke-width="1.0"/>
<text x="185.4" y="404.02" font-size="5.6" text-anchor="end" fill="#222" font-family="Liberation Sans">PRESENTING-1</text>
<line x1="189.1" y1="402" x2="205" y2="402" stroke="#f07070" stroke-width="1.1"/>
<text x="185.4" y="410.52" font-size="5.6" text-anchor="end" fill="#222" font-family="Liberation Sans">PRESENTING-2</text>
<line x1="189.1" y1="408.5" x2="205" y2="408.5" stroke="#10a078" stroke-width="1.0"/>
<text x="185.4" y="417.02" font-size="5.6" text-anchor="end" fill="#222" font-family="Liberation Sans">Total</text>
<line x1="189.1" y1="415" x2="205" y2="415" stroke="#111" stroke-width="1.1"/>
<text x="185.4" y="423.42" font-size="5.6" text-anchor="end" fill="#222" font-family="Liberation Sans">ACTIVE</text>
<line x1="189.1" y1="421.4" x2="205" y2="421.4" stroke="#9a30e0" stroke-width="1.0"/>
<text x="185.4" y="429.72" font-size="5.6" text-anchor="end" fill="#222" font-family="Liberation Sans">RESTING</text>
<line x1="189.1" y1="427.7" x2="205" y2="427.7" stroke="#56b4e9" stroke-width="1.0"/>
<rect x="238.6" y="389" width="181.9" height="123.3" fill="none" stroke="#888" stroke-width="0.9"/>
<line x1="238.6" y1="512.3" x2="238.6" y2="509.7" stroke="#777" stroke-width="0.9"/>
<line x1="238.6" y1="389" x2="238.6" y2="391.6" stroke="#777" stroke-width="0.9"/>
<text x="239.4" y="520.7" font-size="6" text-anchor="middle" fill="#222" font-family="Liberation Sans">0</text>
<line x1="264.59" y1="512.3" x2="264.59" y2="509.7" stroke="#777" stroke-width="0.9"/>
<line x1="264.59" y1="389" x2="264.59" y2="391.6" stroke="#777" stroke-width="0.9"/>
<text x="265.39" y="520.7" font-size="6" text-anchor="middle" fill="#222" font-family="Liberation Sans">5</text>
<line x1="290.57" y1="512.3" x2="290.57" y2="509.7" stroke="#777" stroke-width="0.9"/>
<line x1="290.57" y1="389" x2="290.57" y2="391.6" stroke="#777" stroke-width="0.9"/>
<text x="291.37" y="520.7" font-size="6" text-anchor="middle" fill="#222" font-family="Liberation Sans">10</text>
<line x1="316.56" y1="512.3" x2="316.56" y2="509.7" stroke="#777" stroke-width="0.9"/>
<line x1="316.56" y1="389" x2="316.56" y2="391.6" stroke="#777" stroke-width="0.9"/>
<text x="317.36" y="520.7" font-size="6" text-anchor="middle" fill="#222" font-family="Liberation Sans">15</text>
<line x1="342.54" y1="512.3" x2="342.54" y2="509.7" stroke="#777" stroke-width="0.9"/>
<line x1="342.54" y1="389" x2="342.54" y2="391.6" stroke="#777" stroke-width="0.9"/>
<text x="343.34" y="520.7" font-size="6" text-anchor="middle" fill="#222" font-family="Liberation Sans">20</text>
<line x1="368.53" y1="512.3" x2="368.53" y2="509.7" stroke="#777" stroke-width="0.9"/>
<line x1="368.53" y1="389" x2="368.53" y2="391.6" stroke="#777" stroke-width="0.9"/>
<text x="369.33" y="520.7" font-size="6" text-anchor="middle" fill="#222" font-family="Liberation Sans">25</text>
<line x1="394.51" y1="512.3" x2="394.51" y2="509.7" stroke="#777" stroke-width="0.9"/>
<line x1="394.51" y1="389" x2="394.51" y2="391.6" stroke="#777" stroke-width="0.9"/>
<text x="395.31" y="520.7" font-size="6" text-anchor="middle" fill="#222" font-family="Liberation Sans">30</text>
<line x1="420.5" y1="512.3" x2="420.5" y2="509.7" stroke="#777" stroke-width="0.9"/>
<line x1="420.5" y1="389" x2="420.5" y2="391.6" stroke="#777" stroke-width="0.9"/>
<text x="421.3" y="520.7" font-size="6" text-anchor="middle" fill="#222" font-family="Liberation Sans">35</text>
<line x1="238.6" y1="512.3" x2="241.2" y2="512.3" stroke="#777" stroke-width="0.9"/>
<line x1="420.5" y1="512.3" x2="417.9" y2="512.3" stroke="#777" stroke-width="0.9"/>
<text x="234.6" y="514.76" font-size="6" text-anchor="end" fill="#222" font-family="Liberation Sans">0</text>
<line x1="238.6" y1="487.64" x2="241.2" y2="487.64" stroke="#777" stroke-width="0.9"/>
<line x1="420.5" y1="487.64" x2="417.9" y2="487.64" stroke="#777" stroke-width="0.9"/>
<text x="234.6" y="490.1" font-size="6" text-anchor="end" fill="#222" font-family="Liberation Sans">50</text>
<line x1="238.6" y1="462.98" x2="241.2" y2="462.98" stroke="#777" stroke-width="0.9"/>
<line x1="420.5" y1="462.98" x2="417.9" y2="462.98" stroke="#777" stroke-width="0.9"/>
<text x="234.6" y="465.44" font-size="6" text-anchor="end" fill="#222" font-family="Liberation Sans">100</text>
<line x1="238.6" y1="438.32" x2="241.2" y2="438.32" stroke="#777" stroke-width="0.9"/>
<line x1="420.5" y1="438.32" x2="417.9" y2="438.32" stroke="#777" stroke-width="0.9"/>
<text x="234.6" y="440.78" font-size="6" text-anchor="end" fill="#222" font-family="Liberation Sans">150</text>
<line x1="238.6" y1="413.66" x2="241.2" y2="413.66" stroke="#777" stroke-width="0.9"/>
<line x1="420.5" y1="413.66" x2="417.9" y2="413.66" stroke="#777" stroke-width="0.9"/>
<text x="234.6" y="416.12" font-size="6" text-anchor="end" fill="#222" font-family="Liberation Sans">200</text>
<line x1="238.6" y1="389" x2="241.2" y2="389" stroke="#777" stroke-width="0.9"/>
<line x1="420.5" y1="389" x2="417.9" y2="389" stroke="#777" stroke-width="0.9"/>
<text x="234.6" y="391.46" font-size="6" text-anchor="end" fill="#222" font-family="Liberation Sans">250</text>
<text x="329.7" y="381.6" font-size="6" text-anchor="middle" fill="#222" font-family="Liberation Sans">MA population per state (cells per mm<tspan font-size="4.32" dy="-2.2">3</tspan><tspan dy="2.2">)</tspan></text>
<text x="329.3" y="529.9" font-size="6" text-anchor="middle" fill="#222" font-family="Liberation Sans">days</text>
<text x="327.4" y="545.6" font-size="12" text-anchor="middle" fill="#111" font-family="Liberation Serif">(H)</text>
<path d="M238.6,512.3 C239.9,507.83 241.2,504.12 242.5,498.88 C243.23,495.96 243.95,488.82 244.68,488.82 C245.43,488.82 246.17,490.27 246.92,491.63 C247.97,493.57 249.03,497.27 250.09,499.23 C251.19,501.29 252.3,502.61 253.41,503.62 C254.87,504.94 256.32,504.95 257.78,505.79 C258.85,506.41 259.93,507.09 261,507.91 C262.11,508.76 263.22,510.09 264.33,510.82 C265.45,511.56 266.58,512.3 267.7,512.3 C315.17,512.3 362.64,512.3 410.11,512.3" fill="none" stroke="#e8a000" stroke-width="1.0" stroke-linejoin="round" stroke-linecap="butt"/>
<path d="M238.6,512.3 C239.54,505.77 240.47,500.52 241.41,492.72 C242.15,486.51 242.9,476.3 243.64,471.07 C244.56,464.62 245.48,461.58 246.4,459.08 C247.87,455.08 249.34,454.3 250.81,454.3 C252.04,454.3 253.27,455.96 254.5,458 C255.59,459.81 256.69,462.49 257.78,465.59 C258.85,468.65 259.93,472.7 261,476.44 C262.11,480.31 263.22,484.91 264.33,488.43 C265.38,491.78 266.44,494.75 267.5,497.11 C268.97,500.39 270.44,502.93 271.91,504.7 C273.72,506.87 275.52,507.56 277.32,508.4 C279.52,509.44 281.72,509.51 283.92,510.08 C286.08,510.64 288.25,511.42 290.42,511.81 C292.2,512.13 293.98,512.3 295.77,512.3 C333.88,512.3 371.99,512.3 410.11,512.3" fill="none" stroke="#10a078" stroke-width="1.0" stroke-linejoin="round" stroke-linecap="butt"/>
<path d="M238.6,512.3 L240.16,492.57 L241.72,475.31 L242.76,481.72 L243.64,490.55 L245.82,499.23 L249.1,503.62 L252.32,502.53 L255.59,498.24 L259.91,489.42 L263.18,481.87 L266.51,475.36 L269.99,473.29 L273.58,471.46 L276.28,466.58 L278.1,469.19 L279.92,464.76 L281.74,469.69 L283.5,465.2 L285.22,469.69 L286.99,466.09 L288.8,470.58 L291.51,466.58 L295.09,466.38 L298.68,465.2 L300.45,465.94 L302.32,464.9 L304.08,466.58 L305.9,463.87 L307.72,467.27 L309.49,464.76 L312.4,465.69 L314.79,465.45 L317.49,463.87 L321.08,459.38 L323.78,462.98 L326.12,463.87 L327.42,465.2 L330.02,462.49 L331.63,464.26 L333.71,465.79 L336.88,462.09 L341.19,463.62 L345.61,461.5 L349.82,462.78 L354.5,461.5 L358.65,463.18 L363.02,461.5 L368.42,462.09 L372.79,461.01 L377.1,460.56 L379.29,459.92 L381.52,463.72 L383.7,459.92 L386.93,462.09 L390.2,459.92 L394.51,458.44 L397.79,459.92 L400.02,457.8 L403.19,459.03 L406.47,461.06 L409.07,462.78" fill="none" stroke="#9a30e0" stroke-width="1.0" stroke-linejoin="round" stroke-linecap="butt"/>
<path d="M238.6,415.63 L239.9,438.42 L240.78,460.17 L242.08,481.87 L243.64,494.94 L245.82,502.53 L248.01,504.7 L250.09,504.21 L253.41,502.53 L256.69,497.11 L259.91,490.55 L263.18,482.95 L266.51,477.97 L269.99,476.35 L273.58,475.9 L274.93,469.69 L276.7,475.46 L278.51,469.69 L280.28,473.68 L282.1,469.19 L283.92,474.57 L285.69,469.69 L287.51,473.29 L289.27,470.77 L293.33,470.97 L296.81,469.98 L300.45,469.49 L302.68,472.35 L304.5,466.58 L305.9,471.46 L307.72,468.21 L311.2,468.7 L313.91,470.58 L319.31,465.2 L323.78,466.58 L325.18,469.19 L327.42,465.69 L330.02,469.69 L331.63,468.65 L333.71,470.82 L336.88,466.43 L341.19,467.91 L345.61,466.43 L349.82,468.65 L354.5,467.12 L358.65,468.65 L363.02,465.35 L366.29,467.57 L369.57,465.79 L373.88,465.79 L378.2,459.92 L380.38,469.74 L383.03,464.26 L385.84,466.43 L389.11,461.01 L392.38,459.92 L395.61,458.84 L400.02,457.8 L402.1,459.92 L405.43,459.92 L409.07,459.92" fill="none" stroke="#56b4e9" stroke-width="1.0" stroke-linejoin="round" stroke-linecap="butt"/>
<path d="M238.6,415.63 L240.42,418.84 L242.5,421.45 L244.68,419.33 L246.92,423.23 L250.09,426.43 L253.41,428.65 L256.01,426.43 L258.82,425.45 L262.09,424.36 L265.42,425.45 L268.22,422.83 L270.41,428.65 L273.01,424.36 L275.19,426.43 L278.41,425.45 L281.68,426.43 L285.01,426.43 L288.23,429.34 L290.78,424.95 L293.69,425.45 L296.91,423.23 L299.51,424.36 L302.37,422.14 L305.23,424.36 L308.24,422.14 L311.1,423.23 L314.32,420.66 L317.6,418.84 L320.92,414.55 L323,416.77 L325.6,420.66 L328.2,423.62 L330.38,425.84 L333.6,424.56 L336.88,420.86 L341.19,416.47 L344.52,419.73 L346.7,417.16 L349.92,421.55 L353.2,419.73 L356.52,418.64 L358.6,420.17 L361.93,418.64 L364.11,417.56 L366.29,415.44 L368.42,417.56 L370.61,414.94 L372.79,418.64 L374.3,416.47 L377.1,417.56 L380.38,418.64 L383.7,418.64 L386.93,415.44 L389.53,411.05 L392.38,407.79 L394.51,409.37 L396.7,406.76 L398.88,404.09 L401.11,406.76 L403.19,406.26 L405.43,409.37 L408.7,411.49" fill="none" stroke="#111" stroke-width="1.0" stroke-linejoin="round" stroke-linecap="butt"/>
<text x="393.4" y="396.82" font-size="5.6" text-anchor="end" fill="#222" font-family="Liberation Sans">INTERNALIZED</text>
<line x1="396.7" y1="394.8" x2="413" y2="394.8" stroke="#e8a000" stroke-width="1.0"/>
<text x="393.4" y="403.32" font-size="5.6" text-anchor="end" fill="#222" font-family="Liberation Sans">PRESENTING-2</text>
<line x1="396.7" y1="401.3" x2="413" y2="401.3" stroke="#10a078" stroke-width="1.0"/>
<text x="393.4" y="409.42" font-size="5.6" text-anchor="end" fill="#222" font-family="Liberation Sans">Total</text>
<line x1="396.7" y1="407.4" x2="413" y2="407.4" stroke="#111" stroke-width="1.1"/>
<text x="393.4" y="415.92" font-size="5.6" text-anchor="end" fill="#222" font-family="Liberation Sans">ACTIVE</text>
<line x1="396.7" y1="413.9" x2="413" y2="413.9" stroke="#9a30e0" stroke-width="1.1"/>
<text x="393.4" y="422.52" font-size="5.6" text-anchor="end" fill="#222" font-family="Liberation Sans">RESTING</text>
<line x1="396.7" y1="420.5" x2="413" y2="420.5" stroke="#56b4e9" stroke-width="1.0"/>
<rect x="469.5" y="369.2" width="186.7" height="145.1" fill="none" stroke="#c4c4c4" stroke-width="0.8"/>
<line x1="469.5" y1="514.3" x2="469.5" y2="511.7" stroke="#bbb" stroke-width="0.8"/>
<line x1="469.5" y1="369.2" x2="469.5" y2="371.8" stroke="#bbb" stroke-width="0.8"/>
<text x="470.3" y="523.8" font-size="6.6" text-anchor="middle" fill="#222" font-family="Liberation Sans">0</text>
<line x1="496.17" y1="514.3" x2="496.17" y2="511.7" stroke="#bbb" stroke-width="0.8"/>
<line x1="496.17" y1="369.2" x2="496.17" y2="371.8" stroke="#bbb" stroke-width="0.8"/>
<text x="496.97" y="523.8" font-size="6.6" text-anchor="middle" fill="#222" font-family="Liberation Sans">5</text>
<line x1="522.84" y1="514.3" x2="522.84" y2="511.7" stroke="#bbb" stroke-width="0.8"/>
<line x1="522.84" y1="369.2" x2="522.84" y2="371.8" stroke="#bbb" stroke-width="0.8"/>
<text x="523.64" y="523.8" font-size="6.6" text-anchor="middle" fill="#222" font-family="Liberation Sans">10</text>
<line x1="549.51" y1="514.3" x2="549.51" y2="511.7" stroke="#bbb" stroke-width="0.8"/>
<line x1="549.51" y1="369.2" x2="549.51" y2="371.8" stroke="#bbb" stroke-width="0.8"/>
<text x="550.31" y="523.8" font-size="6.6" text-anchor="middle" fill="#222" font-family="Liberation Sans">15</text>
<line x1="576.19" y1="514.3" x2="576.19" y2="511.7" stroke="#bbb" stroke-width="0.8"/>
<line x1="576.19" y1="369.2" x2="576.19" y2="371.8" stroke="#bbb" stroke-width="0.8"/>
<text x="576.99" y="523.8" font-size="6.6" text-anchor="middle" fill="#222" font-family="Liberation Sans">20</text>
<line x1="602.86" y1="514.3" x2="602.86" y2="511.7" stroke="#bbb" stroke-width="0.8"/>
<line x1="602.86" y1="369.2" x2="602.86" y2="371.8" stroke="#bbb" stroke-width="0.8"/>
<text x="603.66" y="523.8" font-size="6.6" text-anchor="middle" fill="#222" font-family="Liberation Sans">25</text>
<line x1="629.53" y1="514.3" x2="629.53" y2="511.7" stroke="#bbb" stroke-width="0.8"/>
<line x1="629.53" y1="369.2" x2="629.53" y2="371.8" stroke="#bbb" stroke-width="0.8"/>
<text x="630.33" y="523.8" font-size="6.6" text-anchor="middle" fill="#222" font-family="Liberation Sans">30</text>
<line x1="656.2" y1="514.3" x2="656.2" y2="511.7" stroke="#bbb" stroke-width="0.8"/>
<line x1="656.2" y1="369.2" x2="656.2" y2="371.8" stroke="#bbb" stroke-width="0.8"/>
<text x="657" y="523.8" font-size="6.6" text-anchor="middle" fill="#222" font-family="Liberation Sans">35</text>
<line x1="469.5" y1="514.3" x2="472.1" y2="514.3" stroke="#bbb" stroke-width="0.8"/>
<line x1="656.2" y1="514.3" x2="653.6" y2="514.3" stroke="#bbb" stroke-width="0.8"/>
<text x="465.3" y="516.98" font-size="6.6" text-anchor="end" fill="#222" font-family="Liberation Sans">0</text>
<line x1="469.5" y1="498.18" x2="472.1" y2="498.18" stroke="#bbb" stroke-width="0.8"/>
<line x1="656.2" y1="498.18" x2="653.6" y2="498.18" stroke="#bbb" stroke-width="0.8"/>
<text x="465.3" y="500.85" font-size="6.6" text-anchor="end" fill="#222" font-family="Liberation Sans">50000</text>
<line x1="469.5" y1="482.06" x2="472.1" y2="482.06" stroke="#bbb" stroke-width="0.8"/>
<line x1="656.2" y1="482.06" x2="653.6" y2="482.06" stroke="#bbb" stroke-width="0.8"/>
<text x="465.3" y="484.73" font-size="6.6" text-anchor="end" fill="#222" font-family="Liberation Sans">100000</text>
<line x1="469.5" y1="465.93" x2="472.1" y2="465.93" stroke="#bbb" stroke-width="0.8"/>
<line x1="656.2" y1="465.93" x2="653.6" y2="465.93" stroke="#bbb" stroke-width="0.8"/>
<text x="465.3" y="468.61" font-size="6.6" text-anchor="end" fill="#222" font-family="Liberation Sans">150000</text>
<line x1="469.5" y1="449.81" x2="472.1" y2="449.81" stroke="#bbb" stroke-width="0.8"/>
<line x1="656.2" y1="449.81" x2="653.6" y2="449.81" stroke="#bbb" stroke-width="0.8"/>
<text x="465.3" y="452.49" font-size="6.6" text-anchor="end" fill="#222" font-family="Liberation Sans">200000</text>
<line x1="469.5" y1="433.69" x2="472.1" y2="433.69" stroke="#bbb" stroke-width="0.8"/>
<line x1="656.2" y1="433.69" x2="653.6" y2="433.69" stroke="#bbb" stroke-width="0.8"/>
<text x="465.3" y="436.36" font-size="6.6" text-anchor="end" fill="#222" font-family="Liberation Sans">250000</text>
<line x1="469.5" y1="417.57" x2="472.1" y2="417.57" stroke="#bbb" stroke-width="0.8"/>
<line x1="656.2" y1="417.57" x2="653.6" y2="417.57" stroke="#bbb" stroke-width="0.8"/>
<text x="465.3" y="420.24" font-size="6.6" text-anchor="end" fill="#222" font-family="Liberation Sans">300000</text>
<line x1="469.5" y1="401.44" x2="472.1" y2="401.44" stroke="#bbb" stroke-width="0.8"/>
<line x1="656.2" y1="401.44" x2="653.6" y2="401.44" stroke="#bbb" stroke-width="0.8"/>
<text x="465.3" y="404.12" font-size="6.6" text-anchor="end" fill="#222" font-family="Liberation Sans">350000</text>
<line x1="469.5" y1="385.32" x2="472.1" y2="385.32" stroke="#bbb" stroke-width="0.8"/>
<line x1="656.2" y1="385.32" x2="653.6" y2="385.32" stroke="#bbb" stroke-width="0.8"/>
<text x="465.3" y="388" font-size="6.6" text-anchor="end" fill="#222" font-family="Liberation Sans">400000</text>
<line x1="469.5" y1="369.2" x2="472.1" y2="369.2" stroke="#bbb" stroke-width="0.8"/>
<line x1="656.2" y1="369.2" x2="653.6" y2="369.2" stroke="#bbb" stroke-width="0.8"/>
<text x="465.3" y="371.88" font-size="6.6" text-anchor="end" fill="#222" font-family="Liberation Sans">450000</text>
<text x="435" y="442.2" font-size="6" text-anchor="middle" fill="#222" font-family="Liberation Sans" transform="rotate(-90 435 442.2)">ng/mL</text>
<text x="562.9" y="533.6" font-size="6.5" text-anchor="middle" fill="#222" font-family="Liberation Sans">days</text>
<text x="555.4" y="545.4" font-size="12" text-anchor="middle" fill="#111" font-family="Liberation Serif">(I)</text>
<rect x="553.4" y="378.3" width="97.9" height="74.7" fill="none" stroke="#c4c4c4" stroke-width="0.8"/>
<line x1="553.4" y1="453" x2="553.4" y2="450.4" stroke="#bbb" stroke-width="0.8"/>
<line x1="553.4" y1="378.3" x2="553.4" y2="380.9" stroke="#bbb" stroke-width="0.8"/>
<text x="554.2" y="462.3" font-size="6.5" text-anchor="middle" fill="#222" font-family="Liberation Sans">0</text>
<line x1="567.39" y1="453" x2="567.39" y2="450.4" stroke="#bbb" stroke-width="0.8"/>
<line x1="567.39" y1="378.3" x2="567.39" y2="380.9" stroke="#bbb" stroke-width="0.8"/>
<text x="568.19" y="462.3" font-size="6.5" text-anchor="middle" fill="#222" font-family="Liberation Sans">5</text>
<line x1="581.37" y1="453" x2="581.37" y2="450.4" stroke="#bbb" stroke-width="0.8"/>
<line x1="581.37" y1="378.3" x2="581.37" y2="380.9" stroke="#bbb" stroke-width="0.8"/>
<text x="582.17" y="462.3" font-size="6.5" text-anchor="middle" fill="#222" font-family="Liberation Sans">10</text>
<line x1="595.36" y1="453" x2="595.36" y2="450.4" stroke="#bbb" stroke-width="0.8"/>
<line x1="595.36" y1="378.3" x2="595.36" y2="380.9" stroke="#bbb" stroke-width="0.8"/>
<text x="596.16" y="462.3" font-size="6.5" text-anchor="middle" fill="#222" font-family="Liberation Sans">15</text>
<line x1="609.34" y1="453" x2="609.34" y2="450.4" stroke="#bbb" stroke-width="0.8"/>
<line x1="609.34" y1="378.3" x2="609.34" y2="380.9" stroke="#bbb" stroke-width="0.8"/>
<text x="610.14" y="462.3" font-size="6.5" text-anchor="middle" fill="#222" font-family="Liberation Sans">20</text>
<line x1="623.33" y1="453" x2="623.33" y2="450.4" stroke="#bbb" stroke-width="0.8"/>
<line x1="623.33" y1="378.3" x2="623.33" y2="380.9" stroke="#bbb" stroke-width="0.8"/>
<text x="624.13" y="462.3" font-size="6.5" text-anchor="middle" fill="#222" font-family="Liberation Sans">25</text>
<line x1="637.31" y1="453" x2="637.31" y2="450.4" stroke="#bbb" stroke-width="0.8"/>
<line x1="637.31" y1="378.3" x2="637.31" y2="380.9" stroke="#bbb" stroke-width="0.8"/>
<text x="638.11" y="462.3" font-size="6.5" text-anchor="middle" fill="#222" font-family="Liberation Sans">30</text>
<line x1="651.3" y1="453" x2="651.3" y2="450.4" stroke="#bbb" stroke-width="0.8"/>
<line x1="651.3" y1="378.3" x2="651.3" y2="380.9" stroke="#bbb" stroke-width="0.8"/>
<text x="652.1" y="462.3" font-size="6.5" text-anchor="middle" fill="#222" font-family="Liberation Sans">35</text>
<line x1="553.4" y1="453" x2="556" y2="453" stroke="#bbb" stroke-width="0.8"/>
<line x1="651.3" y1="453" x2="648.7" y2="453" stroke="#bbb" stroke-width="0.8"/>
<text x="549.9" y="455.64" font-size="6.5" text-anchor="end" fill="#222" font-family="Liberation Sans">0</text>
<line x1="553.4" y1="440.55" x2="556" y2="440.55" stroke="#bbb" stroke-width="0.8"/>
<line x1="651.3" y1="440.55" x2="648.7" y2="440.55" stroke="#bbb" stroke-width="0.8"/>
<text x="549.9" y="443.19" font-size="6.5" text-anchor="end" fill="#222" font-family="Liberation Sans">50000</text>
<line x1="553.4" y1="428.1" x2="556" y2="428.1" stroke="#bbb" stroke-width="0.8"/>
<line x1="651.3" y1="428.1" x2="648.7" y2="428.1" stroke="#bbb" stroke-width="0.8"/>
<text x="549.9" y="430.74" font-size="6.5" text-anchor="end" fill="#222" font-family="Liberation Sans">100000</text>
<line x1="553.4" y1="415.65" x2="556" y2="415.65" stroke="#bbb" stroke-width="0.8"/>
<line x1="651.3" y1="415.65" x2="648.7" y2="415.65" stroke="#bbb" stroke-width="0.8"/>
<text x="549.9" y="418.29" font-size="6.5" text-anchor="end" fill="#222" font-family="Liberation Sans">150000</text>
<line x1="553.4" y1="403.2" x2="556" y2="403.2" stroke="#bbb" stroke-width="0.8"/>
<line x1="651.3" y1="403.2" x2="648.7" y2="403.2" stroke="#bbb" stroke-width="0.8"/>
<text x="549.9" y="405.84" font-size="6.5" text-anchor="end" fill="#222" font-family="Liberation Sans">200000</text>
<line x1="553.4" y1="390.75" x2="556" y2="390.75" stroke="#bbb" stroke-width="0.8"/>
<line x1="651.3" y1="390.75" x2="648.7" y2="390.75" stroke="#bbb" stroke-width="0.8"/>
<text x="549.9" y="393.39" font-size="6.5" text-anchor="end" fill="#222" font-family="Liberation Sans">250000</text>
<line x1="553.4" y1="378.3" x2="556" y2="378.3" stroke="#bbb" stroke-width="0.8"/>
<line x1="651.3" y1="378.3" x2="648.7" y2="378.3" stroke="#bbb" stroke-width="0.8"/>
<text x="549.9" y="380.94" font-size="6.5" text-anchor="end" fill="#222" font-family="Liberation Sans">300000</text>
<path d="M469.5,514.3 L645.53,514.3" fill="none" stroke="#d04010" stroke-width="1.2" stroke-linejoin="round" stroke-linecap="butt"/>
<path d="M469.5,514.3 C470.12,514.2 470.74,514.29 471.37,513.98 C472.17,513.58 472.97,512.41 473.77,511.72 C474.6,511.01 475.44,510.23 476.27,509.79 C477.57,509.1 478.87,508.84 480.17,508.66 C481.95,508.4 483.72,508.44 485.5,508.4 C489.06,508.31 492.62,508.3 496.17,508.3 C499.03,508.3 501.9,508.35 504.76,508.59 C506.98,508.78 509.2,509.15 511.43,509.5 C513.65,509.84 515.87,510.34 518.1,510.69 C521.46,511.21 524.82,511.62 528.18,512.01 C531.52,512.4 534.86,512.76 538.21,513.01 C542.65,513.34 547.1,513.53 551.54,513.69 C559.76,513.98 567.97,514.11 576.19,514.2 C585.08,514.3 593.97,514.3 602.86,514.3 C617.08,514.3 631.31,514.3 645.53,514.3" fill="none" stroke="#56b4e9" stroke-width="1.0" stroke-linejoin="round" stroke-linecap="butt"/>
<path d="M469.5,514.3 C474.12,514.3 478.75,514.3 483.37,514.3 C484.22,514.3 485.08,514.3 485.93,513.82 C487.28,513.05 488.63,508.42 489.98,505.98 C491.34,503.54 492.69,500.6 494.04,499.18 C495.34,497.81 496.63,497.86 497.93,497.5 C498.54,497.33 499.14,497.27 499.75,497.27 C501.42,497.27 503.09,497.96 504.76,498.6 C506.98,499.44 509.2,500.77 511.43,501.89 C513.65,503 515.87,504.3 518.1,505.3 C520.9,506.57 523.71,507.69 526.52,508.59 C529.32,509.49 532.11,510.11 534.9,510.69 C538.22,511.37 541.55,511.88 544.87,512.3 C549.89,512.94 554.9,513.39 559.92,513.69 C565.34,514.01 570.76,514.05 576.19,514.14 C585.08,514.29 593.97,514.3 602.86,514.3 C617.08,514.3 631.31,514.3 645.53,514.3" fill="none" stroke="#555" stroke-width="0.9" stroke-linejoin="round" stroke-linecap="butt"/>
<path d="M469.5,514.3 C473.95,514.3 478.39,514.3 482.84,514.3 C483.55,514.3 484.26,514.3 484.97,513.82 C485.73,513.3 486.5,512.17 487.26,510.2 C488.17,507.87 489.08,503.35 489.98,500.5 C491.34,496.25 492.69,492.38 494.04,489.47 C495.34,486.67 496.63,484.73 497.93,483.28 C499.11,481.97 500.28,480.99 501.45,480.99 C502.86,480.99 504.26,481.78 505.67,482.67 C507.59,483.88 509.51,485.75 511.43,487.67 C513.65,489.88 515.87,493.04 518.1,495.18 C520.9,497.88 523.71,499.98 526.52,501.89 C529.32,503.78 532.11,505.32 534.9,506.59 C537.65,507.85 540.41,508.68 543.17,509.5 C545.96,510.32 548.75,510.98 551.54,511.49 C554.9,512.12 558.26,512.49 561.62,512.82 C566.05,513.25 570.48,513.48 574.91,513.69 C580.67,513.95 586.43,514.04 592.19,514.14 C599.3,514.26 606.41,514.3 613.53,514.3 C624.19,514.3 634.86,514.3 645.53,514.3" fill="none" stroke="#e8a000" stroke-width="1.1" stroke-linejoin="round" stroke-linecap="butt"/>
<path d="M469.5,514.3 C469.94,513.91 470.39,514.24 470.83,513.01 C471.81,510.31 472.79,503.2 473.77,498.18 C474.8,492.88 475.83,486.91 476.86,482.06 C478.14,476.03 479.42,471.17 480.7,465.93 C482.05,460.41 483.4,455.26 484.76,449.81 C486.29,443.64 487.81,436.75 489.34,431.04 C490.68,426.07 492.01,421.46 493.34,417.53 C494.68,413.61 496.01,410.64 497.34,407.51 C498.68,404.37 500.01,401 501.35,398.7 C503.14,395.61 504.94,393.66 506.73,392 C508.53,390.33 510.33,389.82 512.12,388.71 C513.92,387.6 515.71,386.38 517.51,385.32 C519.64,384.06 521.78,382.61 523.91,381.78 C526.22,380.87 528.53,380.54 530.84,380.16 C532.62,379.88 534.4,379.68 536.18,379.68 C537.96,379.68 539.73,379.81 541.51,380.16 C542.76,380.41 544,380.48 545.25,381.29 C546.58,382.16 547.91,383.01 549.25,385.32 C550.15,386.89 551.06,389.06 551.97,392 C552.86,394.88 553.75,399.11 554.64,402.73 C555.51,406.29 556.38,410.02 557.25,413.54 C558.16,417.19 559.06,420.62 559.97,424.24 C560.86,427.79 561.75,431.29 562.64,435.04 C563.77,439.85 564.91,446.1 566.05,450.04 C567.85,456.25 569.64,458.96 571.44,463.68 C572.7,466.99 573.96,471.02 575.23,473.99 C576.95,478.06 578.68,481.51 580.4,484.31 C582.2,487.23 583.99,489.08 585.79,491.05 C587.92,493.4 590.05,495.36 592.19,497.12 C594.32,498.88 596.46,500.3 598.59,501.6 C600.72,502.9 602.86,503.96 604.99,504.92 C607.12,505.88 609.26,506.65 611.39,507.36 C613.53,508.07 615.66,508.65 617.79,509.17 C619.93,509.7 622.06,510.12 624.19,510.51 C626.33,510.9 628.46,511.21 630.6,511.5 C632.73,511.79 634.86,512.02 637,512.23 C639.13,512.44 641.26,512.61 643.4,512.77 C644.11,512.83 644.82,512.87 645.53,512.92" fill="none" stroke="#9a20e8" stroke-width="1.2" stroke-linejoin="round" stroke-linecap="butt"/>
<path d="M553.4,453 C554.61,453 555.82,453 557.04,453 C557.69,453 558.34,452.35 558.99,451.26 C559.7,450.07 560.41,448.69 561.12,446.03 C561.81,443.44 562.5,439.72 563.19,435.57 C563.8,431.92 564.4,427.44 565.01,422.87 C565.61,418.31 566.22,412.83 566.83,408.18 C567.48,403.18 568.13,397.18 568.78,393.99 C569.34,391.25 569.9,389.75 570.46,389.75 C570.93,389.75 571.39,389.93 571.86,390.5 C572.42,391.19 572.98,392.13 573.54,393.74 C574.36,396.09 575.18,400.48 576,403.1 C577.63,408.3 579.26,411.98 580.9,415.7 C582.76,419.95 584.63,423.49 586.49,426.81 C588.89,431.06 591.28,435.19 593.68,438.06 C597.32,442.41 600.95,445.13 604.59,447.1 C609.16,449.58 613.73,449.79 618.29,450.61 C622.86,451.43 627.43,451.67 632,452 C636.57,452.34 641.14,452.42 645.71,452.63" fill="none" stroke="#e8a000" stroke-width="1.1" stroke-linejoin="round" stroke-linecap="butt"/>
<path d="M553.4,453 C553.74,452.63 554.07,452.05 554.41,451.9 C556.68,450.91 558.96,450.91 561.23,450.91 C564.03,450.91 566.83,451.31 569.62,451.51 C572.61,451.72 575.59,452 578.57,452.13 C581.65,452.26 584.73,452.24 587.8,452.3 C593.12,452.41 598.43,452.54 603.75,452.63 C610.28,452.73 616.8,452.82 623.33,452.88 C630.79,452.94 638.25,452.96 645.71,453" fill="none" stroke="#56b4e9" stroke-width="1.0" stroke-linejoin="round" stroke-linecap="butt"/>
<text x="491.7" y="377.87" font-size="6.3" text-anchor="end" fill="#222" font-family="Liberation Sans">IFN-g</text>
<line x1="496.1" y1="375.6" x2="513.8" y2="375.6" stroke="#9a20e8" stroke-width="1.2"/>
<text x="491.7" y="384.57" font-size="6.3" text-anchor="end" fill="#222" font-family="Liberation Sans">IL-4</text>
<line x1="496.1" y1="382.3" x2="513.8" y2="382.3" stroke="#10a078" stroke-width="1.1"/>
<text x="491.7" y="391.67" font-size="6.3" text-anchor="end" fill="#222" font-family="Liberation Sans">IL-12</text>
<line x1="496.1" y1="389.4" x2="513.8" y2="389.4" stroke="#56b4e9" stroke-width="1.1"/>
<text x="491.7" y="398.67" font-size="6.3" text-anchor="end" fill="#222" font-family="Liberation Sans">TGF-b</text>
<line x1="496.1" y1="396.4" x2="513.8" y2="396.4" stroke="#e8a000" stroke-width="1.1"/>
<text x="491.7" y="405.77" font-size="6.3" text-anchor="end" fill="#222" font-family="Liberation Sans">TNF-a</text>
<line x1="496.1" y1="403.5" x2="513.8" y2="403.5" stroke="#f03020" stroke-width="1.1"/>
<text x="491.7" y="412.77" font-size="6.3" text-anchor="end" fill="#222" font-family="Liberation Sans">IL-10</text>
<line x1="496.1" y1="410.5" x2="513.8" y2="410.5" stroke="#555" stroke-width="1.0"/>
<text x="491.7" y="419.67" font-size="6.3" text-anchor="end" fill="#222" font-family="Liberation Sans">IL-6</text>
<line x1="496.1" y1="417.4" x2="513.8" y2="417.4" stroke="#d080f0" stroke-width="1.1"/>
<text x="491.7" y="426.37" font-size="6.3" text-anchor="end" fill="#222" font-family="Liberation Sans">IFN-b</text>
<line x1="496.1" y1="424.1" x2="513.8" y2="424.1" stroke="#80d0b0" stroke-width="1.1"/>
<text x="491.7" y="433.37" font-size="6.3" text-anchor="end" fill="#222" font-family="Liberation Sans">IL-18</text>
<line x1="496.1" y1="431.1" x2="513.8" y2="431.1" stroke="#c0e4f8" stroke-width="1.1"/>
<text x="491.7" y="440.07" font-size="6.3" text-anchor="end" fill="#222" font-family="Liberation Sans">IL-23</text>
<line x1="496.1" y1="437.8" x2="513.8" y2="437.8" stroke="#f8d080" stroke-width="1.1"/>
<text x="571.7" y="386.37" font-size="6.3" text-anchor="end" fill="#222" font-family="Liberation Sans">D</text>
<line x1="576.6" y1="384.1" x2="594.3" y2="384.1" stroke="#56b4e9" stroke-width="1.1"/>
<text x="571.7" y="393.17" font-size="6.3" text-anchor="end" fill="#222" font-family="Liberation Sans">IL-2</text>
<line x1="576.6" y1="390.9" x2="594.3" y2="390.9" stroke="#e8a000" stroke-width="1.1"/>
</svg>
</body></html>
